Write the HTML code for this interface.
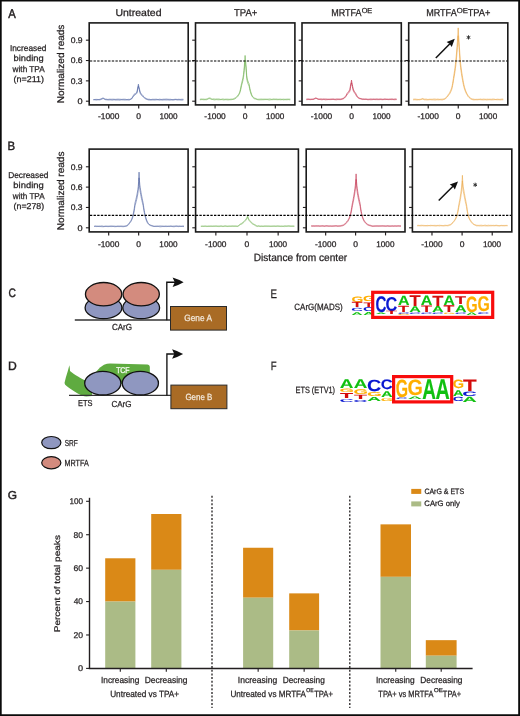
<!DOCTYPE html>
<html><head><meta charset="utf-8"><style>
html,body{margin:0;padding:0;background:#fff;}
#wrap{position:relative;width:520px;height:716px;overflow:hidden;background:#fff;}
#wrap svg{display:block;}
#main{filter:blur(0.3px);}
.bd{position:absolute;left:0;top:0;}
text{font-family:"Liberation Sans",sans-serif;}
</style></head><body><div id="wrap">
<svg id="main" width="520" height="716" viewBox="0 0 520 716" font-family="Liberation Sans, sans-serif" text-rendering="geometricPrecision">
<rect x="0" y="0" width="520" height="716" fill="#fff"/>
<polyline points="93.40,99.47 93.60,99.56 94.00,99.63 94.40,99.52 94.80,99.54 95.20,99.50 95.60,99.41 96.00,99.35 96.40,99.40 96.80,99.42 97.20,99.45 97.60,99.46 98.00,99.46 98.40,99.47 98.80,99.47 99.20,99.42 99.60,99.40 100.00,99.31 100.40,99.12 100.80,98.96 101.20,98.81 101.60,98.54 102.00,98.41 102.40,98.25 102.80,98.10 103.20,98.06 103.60,98.27 104.00,98.45 104.40,98.76 104.80,99.00 105.20,99.16 105.60,99.16 106.00,99.17 106.40,99.21 106.80,99.26 107.20,99.35 107.60,99.42 108.00,99.42 108.40,99.38 108.80,99.27 109.20,99.16 109.60,99.25 110.00,99.25 110.40,99.27 110.80,99.27 111.20,99.37 111.60,99.23 112.00,99.24 112.40,99.23 112.80,99.29 113.20,99.24 113.60,99.26 114.00,99.26 114.40,99.32 114.80,99.30 115.20,99.33 115.60,99.36 116.00,99.34 116.40,99.30 116.80,99.28 117.20,99.24 117.60,99.20 118.00,99.22 118.40,99.23 118.80,99.18 119.20,99.23 119.60,99.26 120.00,99.26 120.40,99.30 120.80,99.37 121.20,99.39 121.60,99.38 122.00,99.39 122.40,99.34 122.80,99.30 123.20,99.24 123.60,99.27 124.00,99.26 124.40,99.24 124.80,99.31 125.20,99.35 125.60,99.30 126.00,99.36 126.40,99.47 126.80,99.48 127.20,99.46 127.60,99.48 128.00,99.46 128.40,99.37 128.80,99.37 129.20,99.39 129.60,99.39 130.00,99.21 130.40,99.09 130.80,98.89 131.20,98.80 131.60,98.42 132.00,97.90 132.40,97.16 132.80,96.48 133.20,95.77 133.60,95.10 134.00,94.35 134.40,94.10 134.80,93.87 135.20,93.62 135.60,93.36 136.00,93.14 136.40,92.78 136.80,92.46 137.20,90.70 137.60,88.23 138.00,86.29 138.40,84.25 138.80,86.25 139.20,87.86 139.60,89.60 140.00,91.48 140.40,92.59 140.80,93.14 141.20,93.73 141.60,94.28 142.00,94.72 142.40,95.18 142.80,95.64 143.20,96.09 143.60,96.41 144.00,96.77 144.40,97.23 144.80,97.71 145.20,97.97 145.60,98.23 146.00,98.41 146.40,98.65 146.80,98.79 147.20,98.95 147.60,99.10 148.00,99.22 148.40,99.28 148.80,99.27 149.20,99.29 149.60,99.30 150.00,99.43 150.40,99.53 150.80,99.47 151.20,99.51 151.60,99.44 152.00,99.33 152.40,99.29 152.80,99.39 153.20,99.32 153.60,99.34 154.00,99.35 154.40,99.33 154.80,99.30 155.20,99.29 155.60,99.28 156.00,99.27 156.40,99.27 156.80,99.30 157.20,99.38 157.60,99.43 158.00,99.40 158.40,99.45 158.80,99.34 159.20,99.24 159.60,99.28 160.00,99.34 160.40,99.35 160.80,99.40 161.20,99.49 161.60,99.42 162.00,99.37 162.40,99.36 162.80,99.31 163.20,99.25 163.60,99.26 164.00,99.30 164.40,99.26 164.80,99.24 165.20,99.24 165.60,99.17 166.00,99.20 166.40,99.15 166.80,99.16 167.20,99.19 167.60,99.24 168.00,99.28 168.40,99.29 168.80,99.34 169.20,99.34 169.60,99.32 170.00,99.28 170.40,99.33 170.80,99.35 171.20,99.38 171.60,99.51 172.00,99.54 172.40,99.53 172.80,99.49 173.20,99.50 173.60,99.45 174.00,99.42 174.40,99.37 174.80,99.38 175.20,99.31 175.60,99.29 176.00,99.27 176.40,99.36 176.80,99.38 177.20,99.43 177.60,99.41 178.00,99.37 178.40,99.32 178.80,99.31 179.20,99.29 179.60,99.40 180.00,99.43 180.40,99.41 180.80,99.40 181.20,99.37 181.60,99.30 182.00,99.24 182.40,99.28 182.80,99.30 183.20,99.32 183.40,99.30" fill="none" stroke="#4a5f9f" stroke-opacity="0.65" stroke-width="1.0" stroke-linejoin="round"/>
<polyline points="93.40,99.92 93.60,99.88 94.00,99.91 94.40,99.76 94.80,99.85 95.20,99.84 95.60,99.89 96.00,99.85 96.40,100.00 96.80,99.85 97.20,99.87 97.60,99.84 98.00,99.89 98.40,99.79 98.80,99.86 99.20,99.83 99.60,99.83 100.00,99.76 100.40,99.68 100.80,99.60 101.20,99.48 101.60,99.27 102.00,99.04 102.40,98.84 102.80,98.67 103.20,98.60 103.60,98.69 104.00,98.89 104.40,99.13 104.80,99.35 105.20,99.55 105.60,99.66 106.00,99.69 106.40,99.76 106.80,99.76 107.20,99.80 107.60,99.90 108.00,99.96 108.40,99.95 108.80,99.96 109.20,99.92 109.60,99.92 110.00,99.90 110.40,99.88 110.80,99.92 111.20,100.03 111.60,99.97 112.00,99.99 112.40,100.03 112.80,100.01 113.20,99.88 113.60,99.86 114.00,99.83 114.40,99.84 114.80,99.89 115.20,99.97 115.60,99.99 116.00,100.04 116.40,99.98 116.80,100.00 117.20,99.98 117.60,99.96 118.00,99.95 118.40,99.97 118.80,99.97 119.20,100.01 119.60,100.10 120.00,100.03 120.40,99.98 120.80,99.91 121.20,99.86 121.60,99.81 122.00,99.88 122.40,99.85 122.80,99.86 123.20,99.89 123.60,99.86 124.00,99.88 124.40,99.95 124.80,99.95 125.20,99.93 125.60,99.94 126.00,99.91 126.40,99.93 126.80,99.91 127.20,99.92 127.60,99.91 128.00,99.94 128.40,99.98 128.80,100.02 129.20,99.99 129.60,99.89 130.00,99.72 130.40,99.54 130.80,99.38 131.20,99.25 131.60,98.94 132.00,98.48 132.40,97.76 132.80,97.25 133.20,96.74 133.60,96.14 134.00,95.46 134.40,95.26 134.80,95.00 135.20,94.70 135.60,94.40 136.00,94.16 136.40,93.78 136.80,93.42 137.20,91.91 137.60,89.67 138.00,87.99 138.40,86.19 138.80,87.98 139.20,89.31 139.60,91.00 140.00,92.66 140.40,93.72 140.80,94.26 141.20,94.88 141.60,95.38 142.00,95.75 142.40,96.23 142.80,96.72 143.20,97.03 143.60,97.22 144.00,97.60 144.40,97.98 144.80,98.30 145.20,98.56 145.60,98.88 146.00,99.08 146.40,99.23 146.80,99.40 147.20,99.53 147.60,99.66 148.00,99.76 148.40,99.90 148.80,99.88 149.20,99.95 149.60,99.95 150.00,99.97 150.40,99.98 150.80,99.99 151.20,99.98 151.60,99.96 152.00,99.97 152.40,99.95 152.80,99.85 153.20,99.87 153.60,99.94 154.00,99.94 154.40,99.94 154.80,100.03 155.20,99.99 155.60,99.90 156.00,99.84 156.40,99.83 156.80,99.79 157.20,99.81 157.60,99.80 158.00,99.86 158.40,99.87 158.80,99.95 159.20,99.95 159.60,100.04 160.00,99.95 160.40,99.93 160.80,99.93 161.20,100.02 161.60,99.92 162.00,100.00 162.40,100.02 162.80,100.03 163.20,99.92 163.60,99.96 164.00,99.95 164.40,99.91 164.80,99.87 165.20,99.90 165.60,99.92 166.00,99.93 166.40,99.95 166.80,99.96 167.20,99.95 167.60,99.91 168.00,99.92 168.40,99.98 168.80,99.98 169.20,100.04 169.60,100.07 170.00,100.10 170.40,99.99 170.80,100.00 171.20,99.94 171.60,99.93 172.00,99.95 172.40,100.00 172.80,100.00 173.20,99.97 173.60,100.01 174.00,99.92 174.40,99.87 174.80,99.77 175.20,99.76 175.60,99.64 176.00,99.77 176.40,99.82 176.80,99.83 177.20,99.91 177.60,99.93 178.00,99.81 178.40,99.85 178.80,99.93 179.20,99.87 179.60,99.95 180.00,100.00 180.40,100.03 180.80,100.02 181.20,100.10 181.60,100.05 182.00,100.00 182.40,100.03 182.80,99.99 183.20,99.93 183.40,99.93" fill="none" stroke="#4a5f9f" stroke-opacity="0.65" stroke-width="1.0" stroke-linejoin="round"/>
<rect x="89.20" y="22.90" width="99.00" height="82.00" fill="none" stroke="#1a1a1a" stroke-width="1.6"/>
<line x1="85.90" y1="101.20" x2="89.20" y2="101.20" stroke="#231f20" stroke-width="1.1"/>
<line x1="85.90" y1="80.86" x2="89.20" y2="80.86" stroke="#231f20" stroke-width="1.1"/>
<line x1="85.90" y1="60.52" x2="89.20" y2="60.52" stroke="#231f20" stroke-width="1.1"/>
<line x1="85.90" y1="40.18" x2="89.20" y2="40.18" stroke="#231f20" stroke-width="1.1"/>
<line x1="108.70" y1="104.90" x2="108.70" y2="108.40" stroke="#231f20" stroke-width="1.15"/>
<text x="97.97" y="119.40" font-size="8.30" textLength="21.39" lengthAdjust="spacingAndGlyphs" fill="#231f20" stroke="#231f20" stroke-width="0.25" >-1000</text>
<line x1="138.70" y1="104.90" x2="138.70" y2="108.40" stroke="#231f20" stroke-width="1.15"/>
<text x="136.31" y="119.40" font-size="8.30" textLength="4.75" lengthAdjust="spacingAndGlyphs" fill="#231f20" stroke="#231f20" stroke-width="0.25" >0</text>
<line x1="168.70" y1="104.90" x2="168.70" y2="108.40" stroke="#231f20" stroke-width="1.15"/>
<text x="159.44" y="119.40" font-size="8.30" textLength="18.20" lengthAdjust="spacingAndGlyphs" fill="#231f20" stroke="#231f20" stroke-width="0.25" >1000</text>
<polyline points="199.92,99.24 200.30,99.17 200.70,99.16 201.10,99.07 201.50,99.05 201.90,99.03 202.30,99.10 202.70,99.09 203.10,99.05 203.50,99.09 203.90,99.15 204.30,99.21 204.70,99.23 205.10,99.27 205.50,99.21 205.90,99.10 206.30,99.04 206.70,98.94 207.10,98.82 207.50,98.68 207.90,98.60 208.30,98.35 208.70,98.14 209.10,98.00 209.50,97.97 209.90,97.97 210.30,98.09 210.70,98.33 211.10,98.61 211.50,98.86 211.90,98.97 212.30,99.07 212.70,99.10 213.10,99.01 213.50,98.91 213.90,98.92 214.30,98.99 214.70,99.02 215.10,99.05 215.50,99.11 215.90,99.14 216.30,99.03 216.70,99.01 217.10,99.05 217.50,98.99 217.90,99.01 218.30,98.99 218.70,99.00 219.10,99.06 219.50,99.13 219.90,99.17 220.30,99.30 220.70,99.36 221.10,99.28 221.50,99.28 221.90,99.17 222.30,99.10 222.70,98.97 223.10,99.05 223.50,99.07 223.90,99.14 224.30,99.23 224.70,99.28 225.10,99.24 225.50,99.20 225.90,99.16 226.30,99.11 226.70,99.21 227.10,99.17 227.50,99.20 227.90,99.23 228.30,99.28 228.70,99.23 229.10,99.29 229.50,99.28 229.90,99.30 230.30,99.18 230.70,99.21 231.10,99.13 231.50,99.12 231.90,99.13 232.30,99.15 232.70,99.06 233.10,99.00 233.50,98.83 233.90,98.61 234.30,98.37 234.70,98.17 235.10,97.89 235.50,97.62 235.90,97.30 236.30,97.04 236.70,96.56 237.10,96.20 237.50,95.81 237.90,95.31 238.30,94.71 238.70,94.15 239.10,93.42 239.50,92.46 239.90,91.34 240.30,89.86 240.70,88.03 241.10,85.85 241.50,83.65 241.90,82.16 242.30,80.55 242.70,78.75 243.10,76.79 243.50,74.37 243.90,70.64 244.30,66.32 244.70,60.70 245.10,55.45 245.50,60.10 245.90,63.61 246.30,68.93 246.70,75.34 247.10,77.92 247.50,79.96 247.90,81.01 248.30,82.01 248.70,82.94 249.10,83.89 249.50,86.32 249.90,88.42 250.30,90.18 250.70,91.59 251.10,92.95 251.50,94.20 251.90,95.17 252.30,95.94 252.70,96.61 253.10,97.08 253.50,97.38 253.90,97.70 254.30,97.96 254.70,98.09 255.10,98.25 255.50,98.43 255.90,98.56 256.30,98.79 256.70,98.98 257.10,99.21 257.50,99.22 257.90,99.21 258.30,99.19 258.70,99.24 259.10,99.18 259.50,99.20 259.90,99.16 260.30,99.13 260.70,99.11 261.10,99.16 261.50,99.09 261.90,99.14 262.30,99.13 262.70,99.17 263.10,99.12 263.50,99.15 263.90,99.15 264.30,99.10 264.70,99.17 265.10,99.19 265.50,99.13 265.90,99.20 266.30,99.21 266.70,99.12 267.10,99.15 267.50,99.19 267.90,99.11 268.30,99.14 268.70,99.12 269.10,99.02 269.50,99.00 269.90,99.01 270.30,99.07 270.70,99.10 271.10,99.23 271.50,99.30 271.90,99.29 272.30,99.24 272.70,99.14 273.10,99.04 273.50,98.97 273.90,99.00 274.30,99.03 274.70,99.09 275.10,99.10 275.50,99.08 275.90,99.07 276.30,99.05 276.70,99.09 277.10,99.08 277.50,99.22 277.90,99.27 278.30,99.26 278.70,99.22 279.10,99.24 279.50,99.17 279.90,99.12 280.30,99.14 280.70,99.19 281.10,99.26 281.50,99.29 281.90,99.29 282.30,99.29 282.70,99.24 283.10,99.17 283.50,99.20 283.90,99.18 284.30,99.24 284.70,99.25 285.10,99.28 285.50,99.25 285.90,99.27 286.30,99.20 286.70,99.21 287.10,99.18 287.50,99.13 287.90,99.11 288.30,99.15 288.70,99.16 289.10,99.24 289.50,99.14 289.90,99.17 290.28,99.11" fill="none" stroke="#72b254" stroke-opacity="0.65" stroke-width="1.0" stroke-linejoin="round"/>
<polyline points="199.92,99.68 200.30,99.71 200.70,99.69 201.10,99.63 201.50,99.59 201.90,99.65 202.30,99.63 202.70,99.61 203.10,99.69 203.50,99.71 203.90,99.71 204.30,99.71 204.70,99.70 205.10,99.69 205.50,99.67 205.90,99.70 206.30,99.68 206.70,99.67 207.10,99.53 207.50,99.40 207.90,99.16 208.30,98.86 208.70,98.72 209.10,98.62 209.50,98.63 209.90,98.63 210.30,98.90 210.70,98.98 211.10,99.16 211.50,99.31 211.90,99.51 212.30,99.45 212.70,99.51 213.10,99.60 213.50,99.67 213.90,99.71 214.30,99.79 214.70,99.87 215.10,99.79 215.50,99.73 215.90,99.64 216.30,99.65 216.70,99.62 217.10,99.69 217.50,99.66 217.90,99.76 218.30,99.75 218.70,99.79 219.10,99.79 219.50,99.73 219.90,99.69 220.30,99.69 220.70,99.63 221.10,99.61 221.50,99.62 221.90,99.64 222.30,99.66 222.70,99.70 223.10,99.79 223.50,99.86 223.90,99.84 224.30,99.79 224.70,99.79 225.10,99.66 225.50,99.70 225.90,99.67 226.30,99.70 226.70,99.77 227.10,99.85 227.50,99.81 227.90,99.89 228.30,99.88 228.70,99.84 229.10,99.79 229.50,99.75 229.90,99.71 230.30,99.75 230.70,99.71 231.10,99.66 231.50,99.68 231.90,99.57 232.30,99.51 232.70,99.45 233.10,99.42 233.50,99.28 233.90,99.16 234.30,99.08 234.70,98.96 235.10,98.70 235.50,98.50 235.90,98.29 236.30,97.89 236.70,97.49 237.10,97.17 237.50,96.75 237.90,96.28 238.30,95.74 238.70,95.11 239.10,94.43 239.50,93.68 239.90,92.68 240.30,91.35 240.70,89.78 241.10,87.81 241.50,85.78 241.90,84.42 242.30,82.97 242.70,81.32 243.10,79.66 243.50,77.49 243.90,74.07 244.30,70.16 244.70,65.09 245.10,60.28 245.50,64.48 245.90,67.64 246.30,72.53 246.70,78.27 247.10,80.62 247.50,82.49 247.90,83.47 248.30,84.33 248.70,85.24 249.10,86.07 249.50,88.24 249.90,90.14 250.30,91.71 250.70,92.91 251.10,94.17 251.50,95.19 251.90,95.95 252.30,96.63 252.70,97.30 253.10,97.70 253.50,98.08 253.90,98.44 254.30,98.70 254.70,98.80 255.10,98.92 255.50,99.01 255.90,99.11 256.30,99.25 256.70,99.44 257.10,99.60 257.50,99.63 257.90,99.67 258.30,99.76 258.70,99.82 259.10,99.84 259.50,99.85 259.90,99.81 260.30,99.79 260.70,99.79 261.10,99.76 261.50,99.78 261.90,99.79 262.30,99.75 262.70,99.69 263.10,99.70 263.50,99.71 263.90,99.66 264.30,99.64 264.70,99.63 265.10,99.61 265.50,99.58 265.90,99.58 266.30,99.61 266.70,99.56 267.10,99.60 267.50,99.60 267.90,99.75 268.30,99.78 268.70,99.90 269.10,99.91 269.50,99.97 269.90,99.88 270.30,99.83 270.70,99.72 271.10,99.72 271.50,99.68 271.90,99.67 272.30,99.66 272.70,99.69 273.10,99.67 273.50,99.61 273.90,99.58 274.30,99.65 274.70,99.59 275.10,99.57 275.50,99.60 275.90,99.69 276.30,99.63 276.70,99.70 277.10,99.74 277.50,99.71 277.90,99.71 278.30,99.70 278.70,99.67 279.10,99.65 279.50,99.66 279.90,99.68 280.30,99.76 280.70,99.78 281.10,99.74 281.50,99.68 281.90,99.72 282.30,99.64 282.70,99.67 283.10,99.80 283.50,99.83 283.90,99.74 284.30,99.74 284.70,99.68 285.10,99.63 285.50,99.70 285.90,99.64 286.30,99.70 286.70,99.73 287.10,99.70 287.50,99.67 287.90,99.69 288.30,99.64 288.70,99.61 289.10,99.68 289.50,99.76 289.90,99.81 290.28,99.82" fill="none" stroke="#72b254" stroke-opacity="0.65" stroke-width="1.0" stroke-linejoin="round"/>
<rect x="195.50" y="22.90" width="99.40" height="82.00" fill="none" stroke="#1a1a1a" stroke-width="1.6"/>
<line x1="192.20" y1="101.20" x2="195.50" y2="101.20" stroke="#231f20" stroke-width="1.1"/>
<line x1="192.20" y1="80.86" x2="195.50" y2="80.86" stroke="#231f20" stroke-width="1.1"/>
<line x1="192.20" y1="60.52" x2="195.50" y2="60.52" stroke="#231f20" stroke-width="1.1"/>
<line x1="192.20" y1="40.18" x2="195.50" y2="40.18" stroke="#231f20" stroke-width="1.1"/>
<line x1="215.08" y1="104.90" x2="215.08" y2="108.40" stroke="#231f20" stroke-width="1.15"/>
<text x="204.35" y="119.40" font-size="8.30" textLength="21.39" lengthAdjust="spacingAndGlyphs" fill="#231f20" stroke="#231f20" stroke-width="0.25" >-1000</text>
<line x1="245.20" y1="104.90" x2="245.20" y2="108.40" stroke="#231f20" stroke-width="1.15"/>
<text x="242.81" y="119.40" font-size="8.30" textLength="4.75" lengthAdjust="spacingAndGlyphs" fill="#231f20" stroke="#231f20" stroke-width="0.25" >0</text>
<line x1="275.32" y1="104.90" x2="275.32" y2="108.40" stroke="#231f20" stroke-width="1.15"/>
<text x="266.06" y="119.40" font-size="8.30" textLength="18.20" lengthAdjust="spacingAndGlyphs" fill="#231f20" stroke="#231f20" stroke-width="0.25" >1000</text>
<polyline points="306.36,99.07 306.70,99.04 307.10,98.94 307.50,98.99 307.90,99.01 308.30,98.94 308.70,99.04 309.10,99.12 309.50,99.18 309.90,99.16 310.30,99.21 310.70,99.19 311.10,99.21 311.50,99.11 311.90,99.09 312.30,99.08 312.70,99.02 313.10,98.99 313.50,98.90 313.90,98.82 314.30,98.59 314.70,98.34 315.10,98.15 315.50,97.97 315.90,97.93 316.30,98.09 316.70,98.26 317.10,98.45 317.50,98.68 317.90,98.73 318.30,98.86 318.70,98.98 319.10,99.01 319.50,99.05 319.90,99.03 320.30,98.97 320.70,98.92 321.10,98.93 321.50,98.98 321.90,99.04 322.30,99.04 322.70,99.10 323.10,99.09 323.50,98.98 323.90,99.05 324.30,99.04 324.70,98.98 325.10,98.95 325.50,99.02 325.90,99.01 326.30,99.03 326.70,99.07 327.10,99.09 327.50,99.16 327.90,99.18 328.30,99.17 328.70,99.18 329.10,99.23 329.50,99.16 329.90,99.07 330.30,99.09 330.70,99.10 331.10,99.08 331.50,99.03 331.90,99.07 332.30,99.04 332.70,98.93 333.10,98.92 333.50,98.99 333.90,98.99 334.30,99.08 334.70,99.23 335.10,99.24 335.50,99.18 335.90,99.16 336.30,99.05 336.70,98.98 337.10,98.96 337.50,98.99 337.90,99.04 338.30,99.01 338.70,99.04 339.10,99.03 339.50,99.05 339.90,99.01 340.30,99.06 340.70,99.00 341.10,98.89 341.50,98.76 341.90,98.62 342.30,98.53 342.70,98.38 343.10,98.31 343.50,98.12 343.90,97.88 344.30,97.64 344.70,97.23 345.10,96.63 345.50,96.13 345.90,95.63 346.30,94.97 346.70,94.24 347.10,93.35 347.50,92.83 347.90,92.36 348.30,91.84 348.70,91.29 349.10,90.75 349.50,90.11 349.90,89.49 350.30,86.59 350.70,84.06 351.10,82.55 351.50,80.15 351.90,82.59 352.30,84.44 352.70,86.55 353.10,88.40 353.50,89.85 353.90,90.52 354.30,91.24 354.70,91.88 355.10,92.44 355.50,92.96 355.90,93.68 356.30,94.56 356.70,95.29 357.10,95.91 357.50,96.43 357.90,96.91 358.30,97.31 358.70,97.62 359.10,97.89 359.50,98.12 359.90,98.28 360.30,98.40 360.70,98.53 361.10,98.58 361.50,98.71 361.90,98.82 362.30,98.80 362.70,98.87 363.10,98.89 363.50,98.90 363.90,98.88 364.30,99.01 364.70,99.02 365.10,99.03 365.50,98.96 365.90,98.99 366.30,99.06 366.70,99.07 367.10,99.16 367.50,99.21 367.90,99.23 368.30,99.22 368.70,99.20 369.10,99.12 369.50,99.13 369.90,99.09 370.30,99.02 370.70,99.00 371.10,99.03 371.50,99.04 371.90,99.06 372.30,99.08 372.70,99.07 373.10,99.05 373.50,99.01 373.90,99.05 374.30,99.08 374.70,99.07 375.10,99.08 375.50,99.07 375.90,99.01 376.30,98.94 376.70,98.97 377.10,98.98 377.50,99.03 377.90,99.07 378.30,99.14 378.70,99.08 379.10,99.04 379.50,99.04 379.90,99.04 380.30,98.97 380.70,98.98 381.10,99.07 381.50,99.04 381.90,99.08 382.30,99.16 382.70,99.23 383.10,99.18 383.50,99.16 383.90,99.03 384.30,98.91 384.70,98.91 385.10,98.95 385.50,98.94 385.90,99.04 386.30,99.09 386.70,99.11 387.10,99.09 387.50,99.18 387.90,99.07 388.30,99.18 388.70,99.16 389.10,99.15 389.50,99.06 389.90,99.13 390.30,99.09 390.70,99.03 391.10,98.96 391.50,98.96 391.90,98.92 392.30,98.96 392.70,99.03 393.10,99.14 393.50,99.20 393.90,99.17 394.30,99.10 394.70,99.01 395.10,98.93 395.50,98.96 395.90,99.01 396.30,99.04 396.64,99.09" fill="none" stroke="#c2304c" stroke-opacity="0.65" stroke-width="1.0" stroke-linejoin="round"/>
<polyline points="306.36,99.65 306.70,99.66 307.10,99.63 307.50,99.57 307.90,99.59 308.30,99.52 308.70,99.54 309.10,99.59 309.50,99.57 309.90,99.56 310.30,99.65 310.70,99.60 311.10,99.57 311.50,99.53 311.90,99.56 312.30,99.53 312.70,99.51 313.10,99.41 313.50,99.43 313.90,99.26 314.30,99.06 314.70,98.92 315.10,98.79 315.50,98.54 315.90,98.49 316.30,98.50 316.70,98.62 317.10,98.81 317.50,99.04 317.90,99.27 318.30,99.41 318.70,99.47 319.10,99.45 319.50,99.48 319.90,99.40 320.30,99.52 320.70,99.57 321.10,99.64 321.50,99.70 321.90,99.74 322.30,99.70 322.70,99.61 323.10,99.55 323.50,99.45 323.90,99.47 324.30,99.54 324.70,99.58 325.10,99.62 325.50,99.76 325.90,99.76 326.30,99.68 326.70,99.68 327.10,99.69 327.50,99.61 327.90,99.54 328.30,99.56 328.70,99.54 329.10,99.59 329.50,99.59 329.90,99.57 330.30,99.55 330.70,99.62 331.10,99.56 331.50,99.54 331.90,99.57 332.30,99.53 332.70,99.45 333.10,99.42 333.50,99.51 333.90,99.55 334.30,99.59 334.70,99.66 335.10,99.76 335.50,99.70 335.90,99.72 336.30,99.75 336.70,99.68 337.10,99.56 337.50,99.59 337.90,99.61 338.30,99.60 338.70,99.57 339.10,99.63 339.50,99.58 339.90,99.54 340.30,99.57 340.70,99.62 341.10,99.55 341.50,99.49 341.90,99.43 342.30,99.28 342.70,99.10 343.10,98.91 343.50,98.70 343.90,98.53 344.30,98.27 344.70,97.89 345.10,97.44 345.50,97.01 345.90,96.48 346.30,95.93 346.70,95.25 347.10,94.54 347.50,94.06 347.90,93.68 348.30,93.22 348.70,92.86 349.10,92.30 349.50,91.75 349.90,91.10 350.30,88.51 350.70,86.21 351.10,84.77 351.50,82.62 351.90,84.77 352.30,86.40 352.70,88.19 353.10,89.99 353.50,91.24 353.90,91.90 354.30,92.57 354.70,93.18 355.10,93.64 355.50,94.18 355.90,94.92 356.30,95.72 356.70,96.43 357.10,97.00 357.50,97.41 357.90,97.77 358.30,98.07 358.70,98.31 359.10,98.48 359.50,98.61 359.90,98.78 360.30,98.87 360.70,98.89 361.10,99.05 361.50,99.20 361.90,99.32 362.30,99.46 362.70,99.54 363.10,99.48 363.50,99.49 363.90,99.46 364.30,99.45 364.70,99.48 365.10,99.47 365.50,99.49 365.90,99.43 366.30,99.45 366.70,99.49 367.10,99.59 367.50,99.66 367.90,99.67 368.30,99.70 368.70,99.72 369.10,99.72 369.50,99.62 369.90,99.69 370.30,99.74 370.70,99.63 371.10,99.61 371.50,99.69 371.90,99.65 372.30,99.60 372.70,99.62 373.10,99.57 373.50,99.49 373.90,99.53 374.30,99.50 374.70,99.58 375.10,99.57 375.50,99.60 375.90,99.63 376.30,99.65 376.70,99.57 377.10,99.63 377.50,99.61 377.90,99.59 378.30,99.58 378.70,99.68 379.10,99.66 379.50,99.61 379.90,99.54 380.30,99.56 380.70,99.50 381.10,99.54 381.50,99.62 381.90,99.64 382.30,99.66 382.70,99.64 383.10,99.51 383.50,99.58 383.90,99.54 384.30,99.52 384.70,99.59 385.10,99.67 385.50,99.53 385.90,99.64 386.30,99.56 386.70,99.47 387.10,99.45 387.50,99.55 387.90,99.52 388.30,99.61 388.70,99.64 389.10,99.65 389.50,99.58 389.90,99.55 390.30,99.54 390.70,99.55 391.10,99.57 391.50,99.60 391.90,99.58 392.30,99.56 392.70,99.57 393.10,99.57 393.50,99.60 393.90,99.69 394.30,99.68 394.70,99.68 395.10,99.62 395.50,99.61 395.90,99.57 396.30,99.58 396.64,99.59" fill="none" stroke="#c2304c" stroke-opacity="0.65" stroke-width="1.0" stroke-linejoin="round"/>
<rect x="302.00" y="22.90" width="99.30" height="82.00" fill="none" stroke="#1a1a1a" stroke-width="1.6"/>
<line x1="298.70" y1="101.20" x2="302.00" y2="101.20" stroke="#231f20" stroke-width="1.1"/>
<line x1="298.70" y1="80.86" x2="302.00" y2="80.86" stroke="#231f20" stroke-width="1.1"/>
<line x1="298.70" y1="60.52" x2="302.00" y2="60.52" stroke="#231f20" stroke-width="1.1"/>
<line x1="298.70" y1="40.18" x2="302.00" y2="40.18" stroke="#231f20" stroke-width="1.1"/>
<line x1="321.56" y1="104.90" x2="321.56" y2="108.40" stroke="#231f20" stroke-width="1.15"/>
<text x="310.83" y="119.40" font-size="8.30" textLength="21.39" lengthAdjust="spacingAndGlyphs" fill="#231f20" stroke="#231f20" stroke-width="0.25" >-1000</text>
<line x1="351.65" y1="104.90" x2="351.65" y2="108.40" stroke="#231f20" stroke-width="1.15"/>
<text x="349.26" y="119.40" font-size="8.30" textLength="4.75" lengthAdjust="spacingAndGlyphs" fill="#231f20" stroke="#231f20" stroke-width="0.25" >0</text>
<line x1="381.74" y1="104.90" x2="381.74" y2="108.40" stroke="#231f20" stroke-width="1.15"/>
<text x="372.48" y="119.40" font-size="8.30" textLength="18.20" lengthAdjust="spacingAndGlyphs" fill="#231f20" stroke="#231f20" stroke-width="0.25" >1000</text>
<polyline points="413.15,99.20 413.40,99.20 413.80,99.18 414.20,99.16 414.60,99.12 415.00,99.14 415.40,99.13 415.80,99.12 416.20,99.16 416.60,99.29 417.00,99.32 417.40,99.35 417.80,99.45 418.20,99.44 418.60,99.43 419.00,99.39 419.40,99.36 419.80,99.33 420.20,99.33 420.60,99.24 421.00,99.22 421.40,99.08 421.80,98.83 422.20,98.59 422.60,98.51 423.00,98.58 423.40,98.74 423.80,98.86 424.20,99.03 424.60,99.20 425.00,99.12 425.40,99.12 425.80,99.19 426.20,99.21 426.60,99.16 427.00,99.30 427.40,99.39 427.80,99.45 428.20,99.41 428.60,99.37 429.00,99.31 429.40,99.27 429.80,99.21 430.20,99.20 430.60,99.27 431.00,99.28 431.40,99.24 431.80,99.29 432.20,99.28 432.60,99.19 433.00,99.16 433.40,99.11 433.80,98.98 434.20,99.02 434.60,99.02 435.00,99.02 435.40,99.12 435.80,99.19 436.20,99.26 436.60,99.22 437.00,99.14 437.40,99.10 437.80,99.15 438.20,99.15 438.60,99.19 439.00,99.29 439.40,99.29 439.80,99.37 440.20,99.23 440.60,99.27 441.00,99.28 441.40,99.25 441.80,99.14 442.20,99.21 442.60,99.08 443.00,99.00 443.40,98.98 443.80,98.93 444.20,98.78 444.60,98.63 445.00,98.40 445.40,98.09 445.80,97.69 446.20,97.45 446.60,97.11 447.00,96.61 447.40,96.09 447.80,95.42 448.20,94.72 448.60,94.20 449.00,93.73 449.40,93.06 449.80,92.39 450.20,91.53 450.60,90.71 451.00,89.71 451.40,88.62 451.80,87.47 452.20,85.75 452.60,83.63 453.00,81.24 453.40,78.49 453.80,75.74 454.20,73.26 454.60,70.63 455.00,67.73 455.40,64.52 455.80,61.01 456.20,56.75 456.60,51.93 457.00,46.52 457.40,41.38 457.80,35.63 458.20,27.86 458.60,35.56 459.00,41.27 459.40,46.73 459.80,53.56 460.20,59.51 460.60,63.61 461.00,66.91 461.40,70.03 461.80,72.72 462.20,75.21 462.60,77.47 463.00,80.11 463.40,82.27 463.80,84.31 464.20,86.03 464.60,87.56 465.00,88.81 465.40,90.08 465.80,91.05 466.20,92.00 466.60,92.93 467.00,93.75 467.40,94.31 467.80,94.90 468.20,95.68 468.60,96.21 469.00,96.71 469.40,97.18 469.80,97.49 470.20,97.74 470.60,98.15 471.00,98.42 471.40,98.59 471.80,98.82 472.20,98.92 472.60,99.04 473.00,99.06 473.40,99.14 473.80,99.22 474.20,99.32 474.60,99.33 475.00,99.40 475.40,99.38 475.80,99.36 476.20,99.34 476.60,99.31 477.00,99.30 477.40,99.31 477.80,99.33 478.20,99.29 478.60,99.25 479.00,99.16 479.40,99.22 479.80,99.15 480.20,99.12 480.60,99.09 481.00,99.23 481.40,99.26 481.80,99.27 482.20,99.24 482.60,99.27 483.00,99.17 483.40,99.08 483.80,99.12 484.20,99.15 484.60,99.18 485.00,99.22 485.40,99.25 485.80,99.25 486.20,99.26 486.60,99.26 487.00,99.27 487.40,99.21 487.80,99.23 488.20,99.24 488.60,99.28 489.00,99.18 489.40,99.25 489.80,99.19 490.20,99.25 490.60,99.21 491.00,99.24 491.40,99.26 491.80,99.25 492.20,99.16 492.60,99.12 493.00,99.13 493.40,99.07 493.80,99.07 494.20,99.15 494.60,99.22 495.00,99.31 495.40,99.41 495.80,99.46 496.20,99.42 496.60,99.33 497.00,99.27 497.40,99.20 497.80,99.23 498.20,99.21 498.60,99.32 499.00,99.40 499.40,99.39 499.80,99.32 500.20,99.35 500.60,99.26 501.00,99.15 501.40,99.14 501.80,99.17 502.20,99.09 502.60,99.14 503.00,99.19 503.25,99.21" fill="none" stroke="#eba848" stroke-opacity="0.65" stroke-width="1.0" stroke-linejoin="round"/>
<polyline points="413.15,99.82 413.40,99.82 413.80,99.84 414.20,99.76 414.60,99.75 415.00,99.81 415.40,99.81 415.80,99.78 416.20,99.82 416.60,99.86 417.00,99.82 417.40,99.86 417.80,99.87 418.20,99.87 418.60,99.78 419.00,99.83 419.40,99.84 419.80,99.79 420.20,99.69 420.60,99.63 421.00,99.55 421.40,99.42 421.80,99.29 422.20,99.23 422.60,99.21 423.00,99.34 423.40,99.44 423.80,99.64 424.20,99.73 424.60,99.79 425.00,99.77 425.40,99.78 425.80,99.81 426.20,99.82 426.60,99.86 427.00,99.84 427.40,99.91 427.80,99.83 428.20,99.85 428.60,99.82 429.00,99.80 429.40,99.73 429.80,99.73 430.20,99.69 430.60,99.69 431.00,99.74 431.40,99.78 431.80,99.81 432.20,99.81 432.60,99.84 433.00,99.81 433.40,99.81 433.80,99.85 434.20,99.86 434.60,99.94 435.00,99.99 435.40,99.96 435.80,99.92 436.20,99.90 436.60,99.79 437.00,99.80 437.40,99.77 437.80,99.79 438.20,99.77 438.60,99.83 439.00,99.74 439.40,99.75 439.80,99.75 440.20,99.78 440.60,99.76 441.00,99.80 441.40,99.85 441.80,99.87 442.20,99.95 442.60,99.80 443.00,99.76 443.40,99.60 443.80,99.48 444.20,99.34 444.60,99.32 445.00,99.01 445.40,98.76 445.80,98.45 446.20,98.01 446.60,97.61 447.00,97.30 447.40,96.84 447.80,96.20 448.20,95.72 448.60,95.27 449.00,94.75 449.40,94.14 449.80,93.62 450.20,92.91 450.60,92.10 451.00,91.24 451.40,90.33 451.80,89.16 452.20,87.50 452.60,85.57 453.00,83.37 453.40,80.86 453.80,78.54 454.20,76.35 454.60,74.02 455.00,71.46 455.40,68.56 455.80,65.33 456.20,61.45 456.60,57.09 457.00,52.31 457.40,47.61 457.80,42.43 458.20,35.47 458.60,42.41 459.00,47.51 459.40,52.58 459.80,58.68 460.20,64.02 460.60,67.64 461.00,70.66 461.40,73.45 461.80,76.01 462.20,78.27 462.60,80.49 463.00,82.70 463.40,84.66 463.80,86.39 464.20,87.93 464.60,89.22 465.00,90.42 465.40,91.46 465.80,92.35 466.20,93.20 466.60,94.05 467.00,94.74 467.40,95.39 467.80,96.02 468.20,96.66 468.60,97.10 469.00,97.55 469.40,97.84 469.80,98.12 470.20,98.45 470.60,98.83 471.00,99.09 471.40,99.32 471.80,99.49 472.20,99.55 472.60,99.66 473.00,99.78 473.40,99.84 473.80,99.84 474.20,99.88 474.60,99.84 475.00,99.81 475.40,99.82 475.80,99.72 476.20,99.76 476.60,99.79 477.00,99.78 477.40,99.77 477.80,99.80 478.20,99.71 478.60,99.70 479.00,99.65 479.40,99.63 479.80,99.70 480.20,99.68 480.60,99.72 481.00,99.79 481.40,99.80 481.80,99.79 482.20,99.85 482.60,99.85 483.00,99.83 483.40,99.85 483.80,99.86 484.20,99.82 484.60,99.77 485.00,99.77 485.40,99.76 485.80,99.85 486.20,99.91 486.60,99.95 487.00,99.92 487.40,99.88 487.80,99.82 488.20,99.83 488.60,99.81 489.00,99.78 489.40,99.79 489.80,99.74 490.20,99.78 490.60,99.82 491.00,99.83 491.40,99.88 491.80,99.87 492.20,99.83 492.60,99.83 493.00,99.83 493.40,99.80 493.80,99.77 494.20,99.70 494.60,99.69 495.00,99.73 495.40,99.69 495.80,99.67 496.20,99.73 496.60,99.74 497.00,99.76 497.40,99.78 497.80,99.81 498.20,99.83 498.60,99.72 499.00,99.76 499.40,99.79 499.80,99.86 500.20,99.84 500.60,99.93 501.00,99.90 501.40,99.82 501.80,99.78 502.20,99.82 502.60,99.76 503.00,99.74 503.25,99.80" fill="none" stroke="#eba848" stroke-opacity="0.65" stroke-width="1.0" stroke-linejoin="round"/>
<rect x="408.70" y="22.90" width="99.10" height="82.00" fill="none" stroke="#1a1a1a" stroke-width="1.6"/>
<line x1="405.40" y1="101.20" x2="408.70" y2="101.20" stroke="#231f20" stroke-width="1.1"/>
<line x1="405.40" y1="80.86" x2="408.70" y2="80.86" stroke="#231f20" stroke-width="1.1"/>
<line x1="405.40" y1="60.52" x2="408.70" y2="60.52" stroke="#231f20" stroke-width="1.1"/>
<line x1="405.40" y1="40.18" x2="408.70" y2="40.18" stroke="#231f20" stroke-width="1.1"/>
<line x1="428.22" y1="104.90" x2="428.22" y2="108.40" stroke="#231f20" stroke-width="1.15"/>
<text x="417.49" y="119.40" font-size="8.30" textLength="21.39" lengthAdjust="spacingAndGlyphs" fill="#231f20" stroke="#231f20" stroke-width="0.25" >-1000</text>
<line x1="458.25" y1="104.90" x2="458.25" y2="108.40" stroke="#231f20" stroke-width="1.15"/>
<text x="455.86" y="119.40" font-size="8.30" textLength="4.75" lengthAdjust="spacingAndGlyphs" fill="#231f20" stroke="#231f20" stroke-width="0.25" >0</text>
<line x1="488.28" y1="104.90" x2="488.28" y2="108.40" stroke="#231f20" stroke-width="1.15"/>
<text x="479.02" y="119.40" font-size="8.30" textLength="18.20" lengthAdjust="spacingAndGlyphs" fill="#231f20" stroke="#231f20" stroke-width="0.25" >1000</text>
<line x1="89.90" y1="61.00" x2="507.10" y2="61.00" stroke="#000" stroke-width="1.2" stroke-dasharray="2.35 1.3"/>
<text x="77.43" y="104.10" font-size="8.20" textLength="5.10" lengthAdjust="spacingAndGlyphs" fill="#231f20" stroke="#231f20" stroke-width="0.25" >0</text>
<text x="70.66" y="83.76" font-size="8.20" textLength="11.89" lengthAdjust="spacingAndGlyphs" fill="#231f20" stroke="#231f20" stroke-width="0.25" >0.3</text>
<text x="70.66" y="63.42" font-size="8.20" textLength="11.89" lengthAdjust="spacingAndGlyphs" fill="#231f20" stroke="#231f20" stroke-width="0.25" >0.6</text>
<text x="70.66" y="43.08" font-size="8.20" textLength="11.93" lengthAdjust="spacingAndGlyphs" fill="#231f20" stroke="#231f20" stroke-width="0.25" >0.9</text>
<polyline points="94.10,226.12 94.25,226.12 94.65,226.14 95.05,226.06 95.45,226.05 95.85,226.11 96.25,226.11 96.65,226.08 97.05,226.12 97.45,226.16 97.85,226.12 98.25,226.16 98.65,226.17 99.05,226.17 99.45,226.08 99.85,226.13 100.25,226.14 100.65,226.09 101.05,226.00 101.45,225.98 101.85,225.98 102.25,226.02 102.65,226.10 103.05,226.24 103.45,226.31 103.85,226.36 104.25,226.25 104.65,226.23 105.05,226.16 105.45,226.14 105.85,226.09 106.25,226.08 106.65,226.11 107.05,226.12 107.45,226.16 107.85,226.14 108.25,226.21 108.65,226.13 109.05,226.15 109.45,226.12 109.85,226.10 110.25,226.03 110.65,226.03 111.05,225.99 111.45,225.99 111.85,226.04 112.25,226.08 112.65,226.11 113.05,226.11 113.45,226.14 113.85,226.11 114.25,226.11 114.65,226.15 115.05,226.16 115.45,226.24 115.85,226.29 116.25,226.26 116.65,226.22 117.05,226.20 117.45,226.09 117.85,226.10 118.25,226.07 118.65,226.09 119.05,226.07 119.45,226.13 119.85,226.04 120.25,226.05 120.65,226.05 121.05,226.08 121.45,226.06 121.85,226.10 122.25,226.15 122.65,226.17 123.05,226.25 123.45,226.18 123.85,226.21 124.25,226.13 124.65,226.09 125.05,226.07 125.45,226.06 125.85,225.83 126.25,225.73 126.65,225.63 127.05,225.30 127.45,225.01 127.85,224.80 128.25,224.43 128.65,223.84 129.05,223.30 129.45,222.68 129.85,222.18 130.25,221.60 130.65,221.07 131.05,220.35 131.45,219.51 131.85,218.59 132.25,217.59 132.65,216.27 133.05,214.76 133.45,212.92 133.85,210.81 134.25,208.40 134.65,205.69 135.05,202.70 135.45,201.23 135.85,199.67 136.25,197.93 136.65,196.05 137.05,194.10 137.45,191.98 137.85,189.68 138.25,186.26 138.65,181.40 139.05,172.12 139.45,180.64 139.85,184.89 140.25,187.70 140.65,190.23 141.05,192.60 141.45,194.78 141.85,196.90 142.25,198.91 142.65,200.83 143.05,202.56 143.45,205.27 143.85,208.11 144.25,210.56 144.65,212.68 145.05,214.51 145.45,216.07 145.85,217.67 146.25,218.98 146.65,220.05 147.05,221.01 147.45,221.91 147.85,222.61 148.25,223.26 148.65,223.85 149.05,224.26 149.45,224.49 149.85,224.77 150.25,224.91 150.65,225.07 151.05,225.30 151.45,225.42 151.85,225.51 152.25,225.65 152.65,225.79 153.05,225.85 153.45,226.02 153.85,226.19 154.25,226.25 154.65,226.20 155.05,226.18 155.45,226.14 155.85,226.11 156.25,226.12 156.65,226.02 157.05,226.06 157.45,226.09 157.85,226.08 158.25,226.07 158.65,226.10 159.05,226.01 159.45,226.00 159.85,225.95 160.25,225.93 160.65,226.00 161.05,225.98 161.45,226.02 161.85,226.09 162.25,226.10 162.65,226.09 163.05,226.15 163.45,226.15 163.85,226.13 164.25,226.15 164.65,226.16 165.05,226.12 165.45,226.07 165.85,226.07 166.25,226.06 166.65,226.15 167.05,226.21 167.45,226.25 167.85,226.22 168.25,226.18 168.65,226.12 169.05,226.13 169.45,226.11 169.85,226.08 170.25,226.09 170.65,226.04 171.05,226.08 171.45,226.12 171.85,226.13 172.25,226.18 172.65,226.17 173.05,226.13 173.45,226.13 173.85,226.13 174.25,226.10 174.65,226.07 175.05,226.00 175.45,225.99 175.85,226.03 176.25,225.99 176.65,225.97 177.05,226.03 177.45,226.04 177.85,226.06 178.25,226.08 178.65,226.11 179.05,226.13 179.45,226.02 179.85,226.06 180.25,226.09 180.65,226.16 181.05,226.14 181.45,226.23 181.85,226.20 182.25,226.12 182.65,226.08 183.05,226.12 183.45,226.06 183.85,226.04 184.00,226.10" fill="none" stroke="#4a5f9f" stroke-opacity="0.6" stroke-width="1.0" stroke-linejoin="round"/>
<polyline points="94.10,226.59 94.25,226.49 94.65,226.49 95.05,226.41 95.45,226.40 95.85,226.43 96.25,226.55 96.65,226.50 97.05,226.48 97.45,226.49 97.85,226.50 98.25,226.50 98.65,226.50 99.05,226.49 99.45,226.53 99.85,226.57 100.25,226.54 100.65,226.57 101.05,226.65 101.45,226.61 101.85,226.58 102.25,226.64 102.65,226.69 103.05,226.65 103.45,226.69 103.85,226.64 104.25,226.57 104.65,226.53 105.05,226.52 105.45,226.47 105.85,226.49 106.25,226.48 106.65,226.51 107.05,226.52 107.45,226.55 107.85,226.61 108.25,226.56 108.65,226.61 109.05,226.60 109.45,226.54 109.85,226.48 110.25,226.54 110.65,226.53 111.05,226.50 111.45,226.56 111.85,226.57 112.25,226.50 112.65,226.41 113.05,226.48 113.45,226.49 113.85,226.53 114.25,226.62 114.65,226.68 115.05,226.66 115.45,226.68 115.85,226.60 116.25,226.58 116.65,226.58 117.05,226.51 117.45,226.52 117.85,226.52 118.25,226.52 118.65,226.59 119.05,226.62 119.45,226.55 119.85,226.64 120.25,226.60 120.65,226.50 121.05,226.55 121.45,226.59 121.85,226.55 122.25,226.61 122.65,226.68 123.05,226.70 123.45,226.70 123.85,226.65 124.25,226.61 124.65,226.48 125.05,226.47 125.45,226.26 125.85,226.20 126.25,226.18 126.65,226.09 127.05,225.88 127.45,225.73 127.85,225.47 128.25,225.02 128.65,224.59 129.05,224.00 129.45,223.44 129.85,223.02 130.25,222.52 130.65,221.97 131.05,221.36 131.45,220.67 131.85,219.73 132.25,218.86 132.65,217.78 133.05,216.47 133.45,214.83 133.85,212.95 134.25,210.73 134.65,208.25 135.05,205.54 135.45,204.16 135.85,202.82 136.25,201.36 136.65,199.65 137.05,197.95 137.45,195.97 137.85,193.70 138.25,190.62 138.65,186.22 139.05,177.84 139.45,185.60 139.85,189.59 140.25,192.07 140.65,194.41 141.05,196.47 141.45,198.45 141.85,200.32 142.25,202.11 142.65,203.68 143.05,205.26 143.45,207.60 143.85,210.18 144.25,212.41 144.65,214.40 145.05,216.05 145.45,217.54 145.85,219.04 146.25,220.17 146.65,221.18 147.05,222.12 147.45,222.87 147.85,223.45 148.25,223.99 148.65,224.43 149.05,224.68 149.45,224.99 149.85,225.26 150.25,225.50 150.65,225.63 151.05,225.81 151.45,225.89 151.85,225.98 152.25,226.05 152.65,226.22 153.05,226.38 153.45,226.43 153.85,226.49 154.25,226.53 154.65,226.46 155.05,226.46 155.45,226.50 155.85,226.54 156.25,226.52 156.65,226.53 157.05,226.49 157.45,226.46 157.85,226.45 158.25,226.47 158.65,226.53 159.05,226.61 159.45,226.68 159.85,226.74 160.25,226.77 160.65,226.78 161.05,226.69 161.45,226.67 161.85,226.59 162.25,226.57 162.65,226.51 163.05,226.55 163.45,226.53 163.85,226.55 164.25,226.53 164.65,226.56 165.05,226.47 165.45,226.52 165.85,226.51 166.25,226.56 166.65,226.55 167.05,226.54 167.45,226.43 167.85,226.44 168.25,226.49 168.65,226.45 169.05,226.48 169.45,226.53 169.85,226.47 170.25,226.35 170.65,226.38 171.05,226.40 171.45,226.39 171.85,226.51 172.25,226.57 172.65,226.60 173.05,226.66 173.45,226.74 173.85,226.62 174.25,226.62 174.65,226.65 175.05,226.53 175.45,226.43 175.85,226.44 176.25,226.40 176.65,226.32 177.05,226.38 177.45,226.46 177.85,226.57 178.25,226.62 178.65,226.59 179.05,226.58 179.45,226.52 179.85,226.47 180.25,226.47 180.65,226.47 181.05,226.49 181.45,226.43 181.85,226.39 182.25,226.40 182.65,226.49 183.05,226.53 183.45,226.52 183.85,226.55 184.00,226.53" fill="none" stroke="#4a5f9f" stroke-opacity="0.55" stroke-width="1.0" stroke-linejoin="round"/>
<rect x="89.20" y="149.10" width="98.90" height="82.80" fill="none" stroke="#1a1a1a" stroke-width="1.6"/>
<line x1="85.90" y1="227.80" x2="89.20" y2="227.80" stroke="#231f20" stroke-width="1.1"/>
<line x1="85.90" y1="207.46" x2="89.20" y2="207.46" stroke="#231f20" stroke-width="1.1"/>
<line x1="85.90" y1="187.12" x2="89.20" y2="187.12" stroke="#231f20" stroke-width="1.1"/>
<line x1="85.90" y1="166.78" x2="89.20" y2="166.78" stroke="#231f20" stroke-width="1.1"/>
<line x1="108.68" y1="231.90" x2="108.68" y2="235.40" stroke="#231f20" stroke-width="1.15"/>
<text x="97.95" y="246.80" font-size="8.30" textLength="21.39" lengthAdjust="spacingAndGlyphs" fill="#231f20" stroke="#231f20" stroke-width="0.25" >-1000</text>
<line x1="138.65" y1="231.90" x2="138.65" y2="235.40" stroke="#231f20" stroke-width="1.15"/>
<text x="136.26" y="246.80" font-size="8.30" textLength="4.75" lengthAdjust="spacingAndGlyphs" fill="#231f20" stroke="#231f20" stroke-width="0.25" >0</text>
<line x1="168.62" y1="231.90" x2="168.62" y2="235.40" stroke="#231f20" stroke-width="1.15"/>
<text x="159.36" y="246.80" font-size="8.30" textLength="18.20" lengthAdjust="spacingAndGlyphs" fill="#231f20" stroke="#231f20" stroke-width="0.25" >1000</text>
<polyline points="200.87,226.00 201.20,226.02 201.60,226.07 202.00,226.12 202.40,226.14 202.80,226.17 203.20,226.21 203.60,226.12 204.00,226.07 204.40,225.97 204.80,225.96 205.20,225.89 205.60,225.97 206.00,226.01 206.40,226.06 206.80,226.13 207.20,226.16 207.60,226.12 208.00,226.07 208.40,226.11 208.80,226.07 209.20,226.00 209.60,226.00 210.00,226.04 210.40,225.94 210.80,225.89 211.20,225.98 211.60,225.93 212.00,225.94 212.40,226.07 212.80,226.06 213.20,225.99 213.60,226.06 214.00,226.06 214.40,226.00 214.80,225.97 215.20,225.96 215.60,225.95 216.00,225.92 216.40,225.95 216.80,225.99 217.20,226.01 217.60,226.08 218.00,226.09 218.40,226.00 218.80,226.02 219.20,226.02 219.60,225.98 220.00,226.00 220.40,226.02 220.80,226.01 221.20,226.00 221.60,226.02 222.00,226.08 222.40,226.09 222.80,226.13 223.20,226.16 223.60,226.09 224.00,225.99 224.40,225.98 224.80,225.88 225.20,225.84 225.60,225.88 226.00,225.93 226.40,225.94 226.80,226.00 227.20,226.06 227.60,226.12 228.00,226.05 228.40,226.02 228.80,226.02 229.20,226.02 229.60,225.91 230.00,225.96 230.40,225.96 230.80,226.00 231.20,225.97 231.60,225.98 232.00,226.00 232.40,225.98 232.80,225.93 233.20,225.97 233.60,226.01 234.00,225.99 234.40,225.95 234.80,226.01 235.20,225.99 235.60,225.95 236.00,225.87 236.40,225.99 236.80,226.02 237.20,226.03 237.60,226.09 238.00,225.98 238.40,225.68 238.80,225.31 239.20,224.97 239.60,224.63 240.00,224.34 240.40,224.02 240.80,223.79 241.20,223.59 241.60,223.34 242.00,223.10 242.40,222.77 242.80,222.47 243.20,222.03 243.60,221.62 244.00,221.24 244.40,220.82 244.80,220.39 245.20,220.06 245.60,219.61 246.00,219.07 246.40,218.49 246.80,217.76 247.20,216.90 247.60,216.01 248.00,217.15 248.40,218.21 248.80,219.09 249.20,219.71 249.60,220.23 250.00,220.74 250.40,221.21 250.80,221.62 251.20,222.13 251.60,222.52 252.00,222.89 252.40,223.16 252.80,223.50 253.20,223.73 253.60,224.01 254.00,224.19 254.40,224.41 254.80,224.58 255.20,224.83 255.60,225.03 256.00,225.31 256.40,225.59 256.80,225.80 257.20,225.96 257.60,225.92 258.00,225.88 258.40,225.87 258.80,225.87 259.20,225.90 259.60,226.02 260.00,226.05 260.40,226.00 260.80,226.05 261.20,226.01 261.60,225.96 262.00,226.04 262.40,226.04 262.80,226.00 263.20,226.04 263.60,226.06 264.00,226.00 264.40,225.99 264.80,225.98 265.20,225.93 265.60,225.95 266.00,225.96 266.40,225.96 266.80,225.98 267.20,226.02 267.60,225.95 268.00,225.89 268.40,225.96 268.80,225.93 269.20,225.95 269.60,226.03 270.00,226.01 270.40,226.01 270.80,226.06 271.20,226.03 271.60,226.01 272.00,226.06 272.40,226.01 272.80,225.98 273.20,225.97 273.60,225.92 274.00,225.91 274.40,225.94 274.80,225.96 275.20,226.00 275.60,226.01 276.00,226.03 276.40,226.00 276.80,226.06 277.20,226.06 277.60,226.01 278.00,225.99 278.40,225.97 278.80,225.96 279.20,225.95 279.60,226.05 280.00,226.08 280.40,226.07 280.80,226.03 281.20,226.03 281.60,225.95 282.00,226.05 282.40,226.10 282.80,226.06 283.20,226.01 283.60,226.05 284.00,225.91 284.40,225.83 284.80,225.81 285.20,225.87 285.60,225.84 286.00,225.87 286.40,225.93 286.80,226.04 287.20,225.96 287.60,226.01 288.00,225.96 288.40,225.93 288.80,225.92 289.20,225.92 289.60,225.89 290.00,225.91 290.40,225.99 290.80,225.90 291.20,225.99 291.60,226.01 292.00,226.02 292.40,225.98 292.80,226.03 293.20,225.96 293.60,225.92 294.00,225.92 294.33,225.92" fill="none" stroke="#72b254" stroke-opacity="0.6" stroke-width="1.0" stroke-linejoin="round"/>
<polyline points="200.87,226.52 201.20,226.52 201.60,226.44 202.00,226.39 202.40,226.32 202.80,226.33 203.20,226.31 203.60,226.43 204.00,226.41 204.40,226.47 204.80,226.42 205.20,226.47 205.60,226.42 206.00,226.45 206.40,226.48 206.80,226.55 207.20,226.52 207.60,226.45 208.00,226.38 208.40,226.39 208.80,226.39 209.20,226.45 209.60,226.50 210.00,226.51 210.40,226.51 210.80,226.51 211.20,226.46 211.60,226.48 212.00,226.47 212.40,226.42 212.80,226.44 213.20,226.41 213.60,226.39 214.00,226.43 214.40,226.43 214.80,226.31 215.20,226.33 215.60,226.32 216.00,226.32 216.40,226.31 216.80,226.38 217.20,226.36 217.60,226.45 218.00,226.45 218.40,226.52 218.80,226.58 219.20,226.62 219.60,226.51 220.00,226.44 220.40,226.32 220.80,226.26 221.20,226.26 221.60,226.27 222.00,226.34 222.40,226.50 222.80,226.52 223.20,226.47 223.60,226.52 224.00,226.50 224.40,226.31 224.80,226.30 225.20,226.32 225.60,226.29 226.00,226.40 226.40,226.49 226.80,226.45 227.20,226.55 227.60,226.46 228.00,226.35 228.40,226.40 228.80,226.49 229.20,226.42 229.60,226.47 230.00,226.53 230.40,226.48 230.80,226.43 231.20,226.42 231.60,226.40 232.00,226.36 232.40,226.33 232.80,226.30 233.20,226.30 233.60,226.34 234.00,226.30 234.40,226.35 234.80,226.42 235.20,226.42 235.60,226.37 236.00,226.46 236.40,226.44 236.80,226.39 237.20,226.45 237.60,226.48 238.00,226.29 238.40,226.07 238.80,225.81 239.20,225.51 239.60,225.19 240.00,224.97 240.40,224.64 240.80,224.45 241.20,224.29 241.60,224.16 242.00,223.88 242.40,223.66 242.80,223.36 243.20,223.01 243.60,222.62 244.00,222.33 244.40,221.90 244.80,221.46 245.20,221.02 245.60,220.57 246.00,220.11 246.40,219.45 246.80,218.81 247.20,218.06 247.60,217.31 248.00,218.29 248.40,219.29 248.80,220.10 249.20,220.74 249.60,221.15 250.00,221.61 250.40,222.09 250.80,222.51 251.20,222.90 251.60,223.40 252.00,223.71 252.40,223.98 252.80,224.21 253.20,224.45 253.60,224.57 254.00,224.84 254.40,225.13 254.80,225.37 255.20,225.56 255.60,225.84 256.00,226.06 256.40,226.24 256.80,226.37 257.20,226.52 257.60,226.40 258.00,226.34 258.40,226.18 258.80,226.27 259.20,226.32 259.60,226.42 260.00,226.46 260.40,226.54 260.80,226.47 261.20,226.41 261.60,226.45 262.00,226.43 262.40,226.49 262.80,226.53 263.20,226.54 263.60,226.46 264.00,226.46 264.40,226.36 264.80,226.31 265.20,226.36 265.60,226.35 266.00,226.33 266.40,226.36 266.80,226.38 267.20,226.36 267.60,226.40 268.00,226.41 268.40,226.42 268.80,226.42 269.20,226.48 269.60,226.40 270.00,226.48 270.40,226.45 270.80,226.49 271.20,226.43 271.60,226.49 272.00,226.44 272.40,226.44 272.80,226.37 273.20,226.38 273.60,226.45 274.00,226.36 274.40,226.37 274.80,226.45 275.20,226.44 275.60,226.44 276.00,226.42 276.40,226.37 276.80,226.30 277.20,226.27 277.60,226.18 278.00,226.29 278.40,226.30 278.80,226.33 279.20,226.38 279.60,226.40 280.00,226.46 280.40,226.48 280.80,226.56 281.20,226.52 281.60,226.55 282.00,226.48 282.40,226.47 282.80,226.41 283.20,226.49 283.60,226.50 284.00,226.49 284.40,226.57 284.80,226.58 285.20,226.54 285.60,226.40 286.00,226.39 286.40,226.37 286.80,226.29 287.20,226.16 287.60,226.23 288.00,226.23 288.40,226.13 288.80,226.15 289.20,226.28 289.60,226.27 290.00,226.26 290.40,226.38 290.80,226.39 291.20,226.33 291.60,226.39 292.00,226.44 292.40,226.39 292.80,226.39 293.20,226.41 293.60,226.50 294.00,226.49 294.33,226.50" fill="none" stroke="#72b254" stroke-opacity="0.55" stroke-width="1.0" stroke-linejoin="round"/>
<rect x="195.60" y="149.10" width="102.80" height="82.80" fill="none" stroke="#1a1a1a" stroke-width="1.6"/>
<line x1="192.30" y1="227.80" x2="195.60" y2="227.80" stroke="#231f20" stroke-width="1.1"/>
<line x1="192.30" y1="207.46" x2="195.60" y2="207.46" stroke="#231f20" stroke-width="1.1"/>
<line x1="192.30" y1="187.12" x2="195.60" y2="187.12" stroke="#231f20" stroke-width="1.1"/>
<line x1="192.30" y1="166.78" x2="195.60" y2="166.78" stroke="#231f20" stroke-width="1.1"/>
<line x1="215.85" y1="231.90" x2="215.85" y2="235.40" stroke="#231f20" stroke-width="1.15"/>
<text x="205.12" y="246.80" font-size="8.30" textLength="21.39" lengthAdjust="spacingAndGlyphs" fill="#231f20" stroke="#231f20" stroke-width="0.25" >-1000</text>
<line x1="247.00" y1="231.90" x2="247.00" y2="235.40" stroke="#231f20" stroke-width="1.15"/>
<text x="244.61" y="246.80" font-size="8.30" textLength="4.75" lengthAdjust="spacingAndGlyphs" fill="#231f20" stroke="#231f20" stroke-width="0.25" >0</text>
<line x1="278.15" y1="231.90" x2="278.15" y2="235.40" stroke="#231f20" stroke-width="1.15"/>
<text x="268.89" y="246.80" font-size="8.30" textLength="18.20" lengthAdjust="spacingAndGlyphs" fill="#231f20" stroke="#231f20" stroke-width="0.25" >1000</text>
<polyline points="311.19,225.72 311.30,225.73 311.70,225.68 312.10,225.65 312.50,225.67 312.90,225.72 313.30,225.68 313.70,225.74 314.10,225.73 314.50,225.78 314.90,225.73 315.30,225.72 315.70,225.71 316.10,225.81 316.50,225.78 316.90,225.75 317.30,225.75 317.70,225.86 318.10,225.78 318.50,225.79 318.90,225.86 319.30,225.96 319.70,225.89 320.10,225.92 320.50,225.93 320.90,225.90 321.30,225.84 321.70,225.80 322.10,225.72 322.50,225.62 322.90,225.69 323.30,225.73 323.70,225.77 324.10,225.84 324.50,225.95 324.90,225.86 325.30,225.77 325.70,225.72 326.10,225.67 326.50,225.63 326.90,225.62 327.30,225.69 327.70,225.73 328.10,225.82 328.50,225.92 328.90,225.94 329.30,225.94 329.70,225.92 330.10,225.87 330.50,225.88 330.90,225.97 331.30,225.97 331.70,226.01 332.10,226.02 332.50,225.94 332.90,225.87 333.30,225.82 333.70,225.84 334.10,225.78 334.50,225.77 334.90,225.77 335.30,225.76 335.70,225.77 336.10,225.82 336.50,225.75 336.90,225.72 337.30,225.79 337.70,225.71 338.10,225.69 338.50,225.79 338.90,225.84 339.30,225.78 339.70,225.80 340.10,225.79 340.50,225.64 340.90,225.54 341.30,225.47 341.70,225.37 342.10,225.29 342.50,225.21 342.90,225.05 343.30,224.95 343.70,224.77 344.10,224.48 344.50,224.17 344.90,223.90 345.30,223.49 345.70,222.92 346.10,222.43 346.50,222.04 346.90,221.55 347.30,221.03 347.70,220.57 348.10,219.89 348.50,219.23 348.90,218.45 349.30,217.57 349.70,216.45 350.10,215.31 350.50,213.74 350.90,211.94 351.30,209.90 351.70,207.59 352.10,204.96 352.50,202.59 352.90,200.68 353.30,198.63 353.70,196.42 354.10,194.03 354.50,191.46 354.90,188.65 355.30,185.43 355.70,181.20 356.10,173.86 356.50,181.24 356.90,185.48 357.30,188.62 357.70,191.37 358.10,193.65 358.50,195.84 358.90,197.92 359.30,199.89 359.70,201.67 360.10,203.31 360.50,206.48 360.90,209.21 361.30,211.47 361.70,213.44 362.10,215.28 362.50,216.61 362.90,217.73 363.30,218.81 363.70,219.67 364.10,220.37 364.50,221.05 364.90,221.56 365.30,222.08 365.70,222.56 366.10,223.11 366.50,223.43 366.90,223.80 367.30,224.05 367.70,224.31 368.10,224.47 368.50,224.74 368.90,224.89 369.30,225.02 369.70,225.17 370.10,225.23 370.50,225.31 370.90,225.48 371.30,225.63 371.70,225.71 372.10,225.89 372.50,225.91 372.90,225.89 373.30,225.92 373.70,225.93 374.10,225.84 374.50,225.84 374.90,225.86 375.30,225.87 375.70,225.85 376.10,225.91 376.50,225.84 376.90,225.78 377.30,225.74 377.70,225.82 378.10,225.83 378.50,225.83 378.90,225.86 379.30,225.80 379.70,225.75 380.10,225.77 380.50,225.76 380.90,225.77 381.30,225.80 381.70,225.75 382.10,225.77 382.50,225.82 382.90,225.83 383.30,225.81 383.70,225.83 384.10,225.82 384.50,225.83 384.90,225.92 385.30,226.00 385.70,226.02 386.10,225.98 386.50,225.87 386.90,225.80 387.30,225.70 387.70,225.70 388.10,225.68 388.50,225.77 388.90,225.77 389.30,225.86 389.70,225.89 390.10,225.91 390.50,225.92 390.90,225.91 391.30,225.85 391.70,225.85 392.10,225.84 392.50,225.83 392.90,225.84 393.30,225.86 393.70,225.79 394.10,225.84 394.50,225.81 394.90,225.78 395.30,225.83 395.70,225.84 396.10,225.80 396.50,225.83 396.90,225.79 397.30,225.73 397.70,225.75 398.10,225.78 398.50,225.70 398.90,225.76 399.30,225.82 399.70,225.80 400.10,225.76 400.50,225.76 400.90,225.74 401.01,225.71" fill="none" stroke="#c2304c" stroke-opacity="0.6" stroke-width="1.0" stroke-linejoin="round"/>
<polyline points="311.19,226.21 311.30,226.26 311.70,226.30 312.10,226.36 312.50,226.43 312.90,226.39 313.30,226.35 313.70,226.29 314.10,226.30 314.50,226.35 314.90,226.30 315.30,226.29 315.70,226.32 316.10,226.17 316.50,226.18 316.90,226.23 317.30,226.19 317.70,226.16 318.10,226.19 318.50,226.18 318.90,226.22 319.30,226.24 319.70,226.22 320.10,226.27 320.50,226.18 320.90,226.17 321.30,226.15 321.70,226.20 322.10,226.23 322.50,226.27 322.90,226.27 323.30,226.31 323.70,226.33 324.10,226.33 324.50,226.36 324.90,226.37 325.30,226.32 325.70,226.20 326.10,226.12 326.50,226.23 326.90,226.22 327.30,226.23 327.70,226.33 328.10,226.38 328.50,226.28 328.90,226.30 329.30,226.29 329.70,226.24 330.10,226.28 330.50,226.22 330.90,226.20 331.30,226.21 331.70,226.26 332.10,226.25 332.50,226.26 332.90,226.30 333.30,226.29 333.70,226.25 334.10,226.21 334.50,226.23 334.90,226.16 335.30,226.07 335.70,226.07 336.10,226.09 336.50,226.11 336.90,226.14 337.30,226.36 337.70,226.41 338.10,226.37 338.50,226.35 338.90,226.36 339.30,226.28 339.70,226.29 340.10,226.34 340.50,226.23 340.90,226.17 341.30,226.10 341.70,225.97 342.10,225.84 342.50,225.80 342.90,225.64 343.30,225.44 343.70,225.30 344.10,225.11 344.50,224.92 344.90,224.49 345.30,224.22 345.70,223.73 346.10,223.23 346.50,222.79 346.90,222.61 347.30,222.05 347.70,221.58 348.10,221.07 348.50,220.40 348.90,219.52 349.30,218.71 349.70,217.81 350.10,216.69 350.50,215.28 350.90,213.74 351.30,211.95 351.70,209.84 352.10,207.52 352.50,205.39 352.90,203.64 353.30,201.81 353.70,199.73 354.10,197.51 354.50,195.21 354.90,192.64 355.30,189.77 355.70,185.98 356.10,179.41 356.50,186.08 356.90,189.97 357.30,192.87 357.70,195.40 358.10,197.41 358.50,199.35 358.90,201.25 359.30,202.90 359.70,204.49 360.10,206.06 360.50,208.96 360.90,211.33 361.30,213.39 361.70,215.14 362.10,216.66 362.50,217.75 362.90,218.79 363.30,219.71 363.70,220.56 364.10,221.29 364.50,221.93 364.90,222.43 365.30,222.99 365.70,223.29 366.10,223.71 366.50,224.08 366.90,224.39 367.30,224.66 367.70,224.94 368.10,225.12 368.50,225.29 368.90,225.52 369.30,225.59 369.70,225.68 370.10,225.80 370.50,225.89 370.90,225.99 371.30,226.11 371.70,226.24 372.10,226.34 372.50,226.38 372.90,226.34 373.30,226.31 373.70,226.35 374.10,226.35 374.50,226.32 374.90,226.30 375.30,226.27 375.70,226.23 376.10,226.26 376.50,226.19 376.90,226.21 377.30,226.24 377.70,226.26 378.10,226.23 378.50,226.26 378.90,226.30 379.30,226.29 379.70,226.28 380.10,226.25 380.50,226.28 380.90,226.25 381.30,226.22 381.70,226.16 382.10,226.14 382.50,226.07 382.90,226.13 383.30,226.12 383.70,226.24 384.10,226.21 384.50,226.27 384.90,226.27 385.30,226.24 385.70,226.12 386.10,226.21 386.50,226.24 386.90,226.19 387.30,226.21 387.70,226.25 388.10,226.31 388.50,226.34 388.90,226.34 389.30,226.34 389.70,226.33 390.10,226.31 390.50,226.31 390.90,226.24 391.30,226.25 391.70,226.28 392.10,226.29 392.50,226.19 392.90,226.25 393.30,226.34 393.70,226.36 394.10,226.23 394.50,226.27 394.90,226.28 395.30,226.21 395.70,226.19 396.10,226.24 396.50,226.32 396.90,226.24 397.30,226.24 397.70,226.27 398.10,226.23 398.50,226.21 398.90,226.25 399.30,226.24 399.70,226.24 400.10,226.32 400.50,226.33 400.90,226.36 401.01,226.38" fill="none" stroke="#c2304c" stroke-opacity="0.55" stroke-width="1.0" stroke-linejoin="round"/>
<rect x="306.20" y="149.10" width="98.80" height="82.80" fill="none" stroke="#1a1a1a" stroke-width="1.6"/>
<line x1="302.90" y1="227.80" x2="306.20" y2="227.80" stroke="#231f20" stroke-width="1.1"/>
<line x1="302.90" y1="207.46" x2="306.20" y2="207.46" stroke="#231f20" stroke-width="1.1"/>
<line x1="302.90" y1="187.12" x2="306.20" y2="187.12" stroke="#231f20" stroke-width="1.1"/>
<line x1="302.90" y1="166.78" x2="306.20" y2="166.78" stroke="#231f20" stroke-width="1.1"/>
<line x1="325.66" y1="231.90" x2="325.66" y2="235.40" stroke="#231f20" stroke-width="1.15"/>
<text x="314.93" y="246.80" font-size="8.30" textLength="21.39" lengthAdjust="spacingAndGlyphs" fill="#231f20" stroke="#231f20" stroke-width="0.25" >-1000</text>
<line x1="355.60" y1="231.90" x2="355.60" y2="235.40" stroke="#231f20" stroke-width="1.15"/>
<text x="353.21" y="246.80" font-size="8.30" textLength="4.75" lengthAdjust="spacingAndGlyphs" fill="#231f20" stroke="#231f20" stroke-width="0.25" >0</text>
<line x1="385.54" y1="231.90" x2="385.54" y2="235.40" stroke="#231f20" stroke-width="1.15"/>
<text x="376.28" y="246.80" font-size="8.30" textLength="18.20" lengthAdjust="spacingAndGlyphs" fill="#231f20" stroke="#231f20" stroke-width="0.25" >1000</text>
<polyline points="417.22,225.37 417.60,225.36 418.00,225.33 418.40,225.32 418.80,225.37 419.20,225.41 419.60,225.44 420.00,225.41 420.40,225.36 420.80,225.33 421.20,225.30 421.60,225.26 422.00,225.32 422.40,225.33 422.80,225.38 423.20,225.34 423.60,225.40 424.00,225.39 424.40,225.46 424.80,225.45 425.20,225.55 425.60,225.57 426.00,225.61 426.40,225.56 426.80,225.55 427.20,225.45 427.60,225.41 428.00,225.36 428.40,225.47 428.80,225.50 429.20,225.50 429.60,225.48 430.00,225.47 430.40,225.39 430.80,225.34 431.20,225.41 431.60,225.38 432.00,225.42 432.40,225.46 432.80,225.42 433.20,225.41 433.60,225.45 434.00,225.45 434.40,225.39 434.80,225.41 435.20,225.41 435.60,225.42 436.00,225.43 436.40,225.44 436.80,225.43 437.20,225.40 437.60,225.41 438.00,225.31 438.40,225.38 438.80,225.37 439.20,225.33 439.60,225.31 440.00,225.44 440.40,225.38 440.80,225.38 441.20,225.42 441.60,225.46 442.00,225.45 442.40,225.49 442.80,225.53 443.20,225.53 443.60,225.51 444.00,225.43 444.40,225.37 444.80,225.29 445.20,225.27 445.60,225.32 446.00,225.35 446.40,225.39 446.80,225.41 447.20,225.43 447.60,225.35 448.00,225.24 448.40,225.10 448.80,224.98 449.20,224.87 449.60,224.70 450.00,224.63 450.40,224.46 450.80,224.28 451.20,223.92 451.60,223.64 452.00,223.20 452.40,222.72 452.80,222.14 453.20,221.77 453.60,221.36 454.00,220.92 454.40,220.39 454.80,219.72 455.20,218.99 455.60,218.22 456.00,217.27 456.40,216.20 456.80,215.15 457.20,213.58 457.60,211.74 458.00,209.77 458.40,207.50 458.80,204.84 459.20,202.67 459.60,200.64 460.00,198.39 460.40,195.96 460.80,193.31 461.20,190.36 461.60,187.09 462.00,182.73 462.40,175.32 462.80,182.77 463.20,186.71 463.60,188.95 464.00,191.11 464.40,193.41 464.80,195.79 465.20,197.96 465.60,200.00 466.00,201.91 466.40,203.70 466.80,206.49 467.20,209.33 467.60,211.83 468.00,213.89 468.40,215.58 468.80,216.82 469.20,217.82 469.60,218.65 470.00,219.46 470.40,220.14 470.80,220.69 471.20,221.28 471.60,221.77 472.00,222.24 472.40,222.81 472.80,223.27 473.20,223.65 473.60,223.97 474.00,224.24 474.40,224.43 474.80,224.63 475.20,224.77 475.60,224.90 476.00,225.01 476.40,225.18 476.80,225.29 477.20,225.31 477.60,225.33 478.00,225.31 478.40,225.32 478.80,225.38 479.20,225.35 479.60,225.35 480.00,225.33 480.40,225.29 480.80,225.24 481.20,225.24 481.60,225.23 482.00,225.30 482.40,225.42 482.80,225.46 483.20,225.48 483.60,225.46 484.00,225.47 484.40,225.26 484.80,225.19 485.20,225.16 485.60,225.21 486.00,225.26 486.40,225.40 486.80,225.46 487.20,225.36 487.60,225.39 488.00,225.29 488.40,225.24 488.80,225.24 489.20,225.43 489.60,225.34 490.00,225.33 490.40,225.35 490.80,225.35 491.20,225.36 491.60,225.39 492.00,225.39 492.40,225.42 492.80,225.38 493.20,225.31 493.60,225.35 494.00,225.41 494.40,225.41 494.80,225.49 495.20,225.44 495.60,225.34 496.00,225.34 496.40,225.27 496.80,225.29 497.20,225.36 497.60,225.46 498.00,225.47 498.40,225.54 498.80,225.53 499.20,225.56 499.60,225.57 500.00,225.56 500.40,225.50 500.80,225.43 501.20,225.41 501.60,225.36 502.00,225.34 502.40,225.45 502.80,225.49 503.20,225.42 503.60,225.46 504.00,225.43 504.40,225.43 504.80,225.44 505.20,225.47 505.60,225.42 506.00,225.46 506.40,225.42 506.80,225.34 507.20,225.36 507.58,225.38" fill="none" stroke="#eba848" stroke-opacity="0.6" stroke-width="1.0" stroke-linejoin="round"/>
<polyline points="417.22,225.91 417.60,225.82 418.00,225.77 418.40,225.76 418.80,225.79 419.20,225.74 419.60,225.85 420.00,225.90 420.40,225.90 420.80,225.84 421.20,225.85 421.60,225.80 422.00,225.73 422.40,225.73 422.80,225.75 423.20,225.84 423.60,225.91 424.00,225.97 424.40,225.96 424.80,225.84 425.20,225.82 425.60,225.83 426.00,225.81 426.40,225.81 426.80,225.93 427.20,225.94 427.60,225.90 428.00,225.83 428.40,225.80 428.80,225.76 429.20,225.73 429.60,225.81 430.00,225.85 430.40,225.82 430.80,225.89 431.20,225.79 431.60,225.73 432.00,225.72 432.40,225.77 432.80,225.76 433.20,225.80 433.60,225.84 434.00,225.91 434.40,225.95 434.80,225.95 435.20,226.03 435.60,226.01 436.00,226.04 436.40,226.04 436.80,225.92 437.20,225.84 437.60,225.80 438.00,225.78 438.40,225.81 438.80,225.91 439.20,225.99 439.60,225.93 440.00,225.87 440.40,225.78 440.80,225.79 441.20,225.75 441.60,225.82 442.00,225.90 442.40,225.89 442.80,225.97 443.20,225.96 443.60,225.98 444.00,225.88 444.40,225.92 444.80,225.83 445.20,225.78 445.60,225.74 446.00,225.76 446.40,225.73 446.80,225.73 447.20,225.78 447.60,225.83 448.00,225.85 448.40,225.72 448.80,225.63 449.20,225.47 449.60,225.33 450.00,225.15 450.40,225.06 450.80,224.82 451.20,224.63 451.60,224.29 452.00,223.89 452.40,223.47 452.80,222.98 453.20,222.48 453.60,222.06 454.00,221.62 454.40,221.01 454.80,220.42 455.20,219.87 455.60,219.17 456.00,218.47 456.40,217.63 456.80,216.71 457.20,215.32 457.60,213.77 458.00,211.91 458.40,209.79 458.80,207.35 459.20,205.45 459.60,203.56 460.00,201.51 460.40,199.44 460.80,197.10 461.20,194.38 461.60,191.50 462.00,187.62 462.40,180.89 462.80,187.52 463.20,191.02 463.60,193.02 464.00,194.96 464.40,197.11 464.80,199.24 465.20,201.28 465.60,203.15 466.00,204.78 466.40,206.36 466.80,209.00 467.20,211.44 467.60,213.59 468.00,215.57 468.40,217.05 468.80,217.99 469.20,218.90 469.60,219.70 470.00,220.37 470.40,221.02 470.80,221.65 471.20,222.27 471.60,222.74 472.00,223.15 472.40,223.64 472.80,224.04 473.20,224.26 473.60,224.49 474.00,224.71 474.40,224.91 474.80,225.11 475.20,225.25 475.60,225.47 476.00,225.65 476.40,225.79 476.80,225.86 477.20,225.87 477.60,225.84 478.00,225.88 478.40,225.85 478.80,225.87 479.20,225.91 479.60,225.95 480.00,225.91 480.40,225.95 480.80,225.92 481.20,225.96 481.60,225.96 482.00,225.93 482.40,225.91 482.80,225.92 483.20,225.82 483.60,225.84 484.00,225.82 484.40,225.86 484.80,225.79 485.20,225.95 485.60,225.88 486.00,225.91 486.40,225.89 486.80,225.93 487.20,225.93 487.60,226.00 488.00,225.96 488.40,225.95 488.80,225.99 489.20,225.98 489.60,225.86 490.00,225.87 490.40,225.90 490.80,225.85 491.20,225.77 491.60,225.87 492.00,225.86 492.40,225.77 492.80,225.79 493.20,225.85 493.60,225.81 494.00,225.80 494.40,225.82 494.80,225.77 495.20,225.71 495.60,225.71 496.00,225.71 496.40,225.69 496.80,225.80 497.20,225.83 497.60,225.86 498.00,225.89 498.40,225.99 498.80,225.93 499.20,225.99 499.60,226.01 500.00,225.98 500.40,225.84 500.80,225.84 501.20,225.79 501.60,225.74 502.00,225.71 502.40,225.83 502.80,225.82 503.20,225.85 503.60,225.84 504.00,225.92 504.40,225.90 504.80,225.87 505.20,225.80 505.60,225.80 506.00,225.78 506.40,225.72 506.80,225.81 507.20,225.83 507.58,225.85" fill="none" stroke="#eba848" stroke-opacity="0.55" stroke-width="1.0" stroke-linejoin="round"/>
<rect x="412.40" y="149.10" width="99.40" height="82.80" fill="none" stroke="#1a1a1a" stroke-width="1.6"/>
<line x1="409.10" y1="227.80" x2="412.40" y2="227.80" stroke="#231f20" stroke-width="1.1"/>
<line x1="409.10" y1="207.46" x2="412.40" y2="207.46" stroke="#231f20" stroke-width="1.1"/>
<line x1="409.10" y1="187.12" x2="412.40" y2="187.12" stroke="#231f20" stroke-width="1.1"/>
<line x1="409.10" y1="166.78" x2="412.40" y2="166.78" stroke="#231f20" stroke-width="1.1"/>
<line x1="431.98" y1="231.90" x2="431.98" y2="235.40" stroke="#231f20" stroke-width="1.15"/>
<text x="421.25" y="246.80" font-size="8.30" textLength="21.39" lengthAdjust="spacingAndGlyphs" fill="#231f20" stroke="#231f20" stroke-width="0.25" >-1000</text>
<line x1="462.10" y1="231.90" x2="462.10" y2="235.40" stroke="#231f20" stroke-width="1.15"/>
<text x="459.71" y="246.80" font-size="8.30" textLength="4.75" lengthAdjust="spacingAndGlyphs" fill="#231f20" stroke="#231f20" stroke-width="0.25" >0</text>
<line x1="492.22" y1="231.90" x2="492.22" y2="235.40" stroke="#231f20" stroke-width="1.15"/>
<text x="482.96" y="246.80" font-size="8.30" textLength="18.20" lengthAdjust="spacingAndGlyphs" fill="#231f20" stroke="#231f20" stroke-width="0.25" >1000</text>
<line x1="89.90" y1="215.40" x2="511.10" y2="215.40" stroke="#000" stroke-width="1.2" stroke-dasharray="2.35 1.3"/>
<text x="77.43" y="230.70" font-size="8.20" textLength="5.10" lengthAdjust="spacingAndGlyphs" fill="#231f20" stroke="#231f20" stroke-width="0.25" >0</text>
<text x="70.66" y="210.36" font-size="8.20" textLength="11.89" lengthAdjust="spacingAndGlyphs" fill="#231f20" stroke="#231f20" stroke-width="0.25" >0.3</text>
<text x="70.66" y="190.02" font-size="8.20" textLength="11.89" lengthAdjust="spacingAndGlyphs" fill="#231f20" stroke="#231f20" stroke-width="0.25" >0.6</text>
<text x="70.66" y="169.68" font-size="8.20" textLength="11.93" lengthAdjust="spacingAndGlyphs" fill="#231f20" stroke="#231f20" stroke-width="0.25" >0.9</text>
<text transform="translate(64.00,102.40) rotate(-90)" x="-0.80" y="0" font-size="9.80" textLength="78.57" lengthAdjust="spacingAndGlyphs" fill="#231f20" stroke="#231f20" stroke-width="0.25">Normalized reads</text>
<text transform="translate(64.00,229.40) rotate(-90)" x="-0.80" y="0" font-size="9.80" textLength="78.67" lengthAdjust="spacingAndGlyphs" fill="#231f20" stroke="#231f20" stroke-width="0.25">Normalized reads</text>
<text x="115.41" y="16.20" font-size="10.00" textLength="46.09" lengthAdjust="spacingAndGlyphs" fill="#231f20" stroke="#231f20" stroke-width="0.25" >Untreated</text>
<text x="234.01" y="16.20" font-size="10.00" textLength="23.36" lengthAdjust="spacingAndGlyphs" fill="#231f20" stroke="#231f20" stroke-width="0.25" >TPA+</text>
<text x="331.28" y="16.20" font-size="10.00" textLength="30.33" lengthAdjust="spacingAndGlyphs" fill="#231f20" stroke="#231f20" stroke-width="0.25" >MRTFA</text>
<text x="361.67" y="12.90" font-size="7.25" textLength="10.62" lengthAdjust="spacingAndGlyphs" fill="#231f20" stroke="#231f20" stroke-width="0.25" >OE</text>
<text x="426.18" y="16.20" font-size="10.00" textLength="30.53" lengthAdjust="spacingAndGlyphs" fill="#231f20" stroke="#231f20" stroke-width="0.25" >MRTFA</text>
<text x="456.65" y="12.90" font-size="7.25" textLength="11.16" lengthAdjust="spacingAndGlyphs" fill="#231f20" stroke="#231f20" stroke-width="0.25" >OE</text>
<text x="467.71" y="16.20" font-size="10.00" textLength="22.75" lengthAdjust="spacingAndGlyphs" fill="#231f20" stroke="#231f20" stroke-width="0.25" >TPA+</text>
<text x="8.30" y="18.45" font-size="12.61" textLength="7.52" lengthAdjust="spacingAndGlyphs" fill="#231f20" stroke="#231f20" stroke-width="0.45" >A</text>
<text x="7.59" y="149.50" font-size="12.03" textLength="7.61" lengthAdjust="spacingAndGlyphs" fill="#231f20" stroke="#231f20" stroke-width="0.45" >B</text>
<text x="9.95" y="50.90" font-size="8.55" textLength="36.50" lengthAdjust="spacingAndGlyphs" fill="#231f20" stroke="#231f20" stroke-width="0.25" >Increased</text>
<text x="13.49" y="61.40" font-size="8.55" textLength="30.12" lengthAdjust="spacingAndGlyphs" fill="#231f20" stroke="#231f20" stroke-width="0.25" >binding</text>
<text x="12.60" y="72.20" font-size="8.55" textLength="32.13" lengthAdjust="spacingAndGlyphs" fill="#231f20" stroke="#231f20" stroke-width="0.25" >with TPA</text>
<text x="13.56" y="82.40" font-size="8.55" textLength="30.38" lengthAdjust="spacingAndGlyphs" fill="#231f20" stroke="#231f20" stroke-width="0.25" >(n=211)</text>
<text x="8.13" y="178.00" font-size="8.55" textLength="40.32" lengthAdjust="spacingAndGlyphs" fill="#231f20" stroke="#231f20" stroke-width="0.25" >Decreased</text>
<text x="13.39" y="188.30" font-size="8.55" textLength="30.43" lengthAdjust="spacingAndGlyphs" fill="#231f20" stroke="#231f20" stroke-width="0.25" >binding</text>
<text x="12.80" y="199.00" font-size="8.55" textLength="31.83" lengthAdjust="spacingAndGlyphs" fill="#231f20" stroke="#231f20" stroke-width="0.25" >with TPA</text>
<text x="13.57" y="209.40" font-size="8.55" textLength="30.60" lengthAdjust="spacingAndGlyphs" fill="#231f20" stroke="#231f20" stroke-width="0.25" >(n=278)</text>
<line x1="435.80" y1="58.00" x2="449.88" y2="43.78" stroke="#111" stroke-width="1.5"/>
<polygon points="454.80,38.80 451.73,47.02 449.74,43.92 446.61,41.95" fill="#111"/>
<line x1="438.70" y1="200.50" x2="453.02" y2="186.32" stroke="#111" stroke-width="1.5"/>
<polygon points="458.00,181.40 454.85,189.59 452.88,186.46 449.78,184.47" fill="#111"/>
<line x1="468.50" y1="35.30" x2="468.50" y2="39.50" stroke="#333" stroke-width="1.0"/>
<line x1="466.68" y1="36.35" x2="470.32" y2="38.45" stroke="#333" stroke-width="1.0"/>
<line x1="466.68" y1="38.45" x2="470.32" y2="36.35" stroke="#333" stroke-width="1.0"/>
<line x1="475.20" y1="182.70" x2="475.20" y2="186.90" stroke="#333" stroke-width="1.0"/>
<line x1="473.38" y1="183.75" x2="477.02" y2="185.85" stroke="#333" stroke-width="1.0"/>
<line x1="473.38" y1="185.85" x2="477.02" y2="183.75" stroke="#333" stroke-width="1.0"/>
<text x="253.69" y="261.20" font-size="10.43" textLength="93.47" lengthAdjust="spacingAndGlyphs" fill="#231f20" stroke="#231f20" stroke-width="0.25" >Distance from center</text>
<text x="8.39" y="297.40" font-size="12.17" textLength="7.39" lengthAdjust="spacingAndGlyphs" fill="#231f20" stroke="#231f20" stroke-width="0.45" >C</text>
<text x="7.93" y="369.90" font-size="12.17" textLength="8.74" lengthAdjust="spacingAndGlyphs" fill="#231f20" stroke="#231f20" stroke-width="0.45" >D</text>
<line x1="74.8" y1="320.0" x2="171" y2="320.0" stroke="#333" stroke-width="1.35"/>
<ellipse cx="103.5" cy="307.7" rx="18.4" ry="10.95" fill="#8f97c0" stroke="#111" stroke-width="1.3"/>
<ellipse cx="141.2" cy="307.7" rx="18.4" ry="10.95" fill="#8f97c0" stroke="#111" stroke-width="1.3"/>
<ellipse cx="103.6" cy="294.2" rx="18.15" ry="11.7" fill="#d38b7e" stroke="#111" stroke-width="1.3"/>
<ellipse cx="141.2" cy="294.2" rx="18.15" ry="11.7" fill="#d38b7e" stroke="#111" stroke-width="1.3"/>
<text x="111.90" y="330.40" font-size="8.84" textLength="20.21" lengthAdjust="spacingAndGlyphs" fill="#231f20" stroke="#231f20" stroke-width="0.25" >CArG</text>
<polyline points="166.8,320.2 166.8,282.2 176.6,282.2" fill="none" stroke="#111" stroke-width="1.35"/>
<path d="M183.6,282.2 Q178.4,279.2 172.6,277.45 L174.79999999999998,282.2 L172.6,286.95 Q178.4,285.2 183.6,282.2 Z" fill="#111"/>
<rect x="170.5" y="306.5" width="56" height="23.6" fill="#a96b25" stroke="#2a2a2a" stroke-width="1"/>
<text x="184.34" y="321.30" font-size="9.13" textLength="27.57" lengthAdjust="spacingAndGlyphs" fill="#f3e9dc" stroke="#f3e9dc" stroke-width="0.25" >Gene A</text>
<polygon points="69.35,365.3 68.5,368.5 67.6,371.8 65.9,377.3 64.5,382.9 65.2,384.8 66.9,386.3 69.2,388.1 71.8,389.8 74.5,391.6 77.3,393.2 79.8,394.6 82.2,395.7 84.3,396.2 86.3,396.4 92,396 92,381 84.2,380.1 82.2,379 80,377.8 78,376.6 75.8,375.2 73.9,373.9 71.6,372.2 70.0,371.1 69.8,368" fill="#5fab40"/>
<polygon points="96.3,371.6 100,367.5 104,364.8 107,363.8 110,363.6 147.5,364.6 148.8,365 149.6,366 149.8,367.5 149.8,372.2 140,383 121,384 102,383 96.3,380" fill="#5fab40"/>
<line x1="69.0" y1="395.3" x2="171" y2="395.3" stroke="#333" stroke-width="1.35"/>
<text x="116.16" y="372.80" font-size="8.41" textLength="13.41" lengthAdjust="spacingAndGlyphs" fill="#f4faef" stroke="#f4faef" stroke-width="0.35" >TCF</text>
<ellipse cx="102.8" cy="383.2" rx="18.1" ry="11.75" fill="#8f97c0" stroke="#111" stroke-width="1.3"/>
<ellipse cx="140.35" cy="383.2" rx="18.1" ry="11.75" fill="#8f97c0" stroke="#111" stroke-width="1.3"/>
<text x="78.00" y="405.80" font-size="8.70" textLength="14.53" lengthAdjust="spacingAndGlyphs" fill="#231f20" stroke="#231f20" stroke-width="0.25" >ETS</text>
<text x="111.40" y="406.80" font-size="8.70" textLength="20.11" lengthAdjust="spacingAndGlyphs" fill="#231f20" stroke="#231f20" stroke-width="0.25" >CArG</text>
<polyline points="166.9,395.6 166.9,354.0 176.1,354.0" fill="none" stroke="#111" stroke-width="1.35"/>
<path d="M183.1,354.0 Q177.9,351.0 172.1,349.25 L174.29999999999998,354.0 L172.1,358.75 Q177.9,357.0 183.1,354.0 Z" fill="#111"/>
<rect x="170.9" y="385.1" width="56" height="23.6" fill="#a96b25" stroke="#2a2a2a" stroke-width="1"/>
<text x="185.40" y="400.10" font-size="8.99" textLength="26.90" lengthAdjust="spacingAndGlyphs" fill="#f3e9dc" stroke="#f3e9dc" stroke-width="0.25" >Gene B</text>
<ellipse cx="51.3" cy="442.6" rx="9.6" ry="6.1" fill="#8f97c0" stroke="#111" stroke-width="1.2"/>
<ellipse cx="51.3" cy="462.7" rx="9.6" ry="6.1" fill="#d38b7e" stroke="#111" stroke-width="1.2"/>
<text x="64.71" y="445.60" font-size="8.70" textLength="13.06" lengthAdjust="spacingAndGlyphs" fill="#231f20" stroke="#231f20" stroke-width="0.25" >SRF</text>
<text x="64.42" y="466.30" font-size="8.84" textLength="24.28" lengthAdjust="spacingAndGlyphs" fill="#231f20" stroke="#231f20" stroke-width="0.25" >MRTFA</text>
<text x="270.62" y="297.70" font-size="12.46" textLength="6.49" lengthAdjust="spacingAndGlyphs" fill="#231f20" stroke="#231f20" stroke-width="0.25" >E</text>
<text x="270.63" y="369.80" font-size="12.03" textLength="5.86" lengthAdjust="spacingAndGlyphs" fill="#231f20" stroke="#231f20" stroke-width="0.25" >F</text>
<text x="294.30" y="309.50" font-size="9.13" textLength="48.42" lengthAdjust="spacingAndGlyphs" fill="#231f20" stroke="#231f20" stroke-width="0.25" >CArG(MADS)</text>
<text x="295.51" y="393.10" font-size="9.13" textLength="39.56" lengthAdjust="spacingAndGlyphs" fill="#231f20" stroke="#231f20" stroke-width="0.25" >ETS (ETV1)</text>
<text transform="translate(351.39,301.72) scale(0.1526,0.0789)" font-size="100" font-weight="bold" fill="#ffae00" stroke="#ffae00" stroke-width="0.65" vector-effect="non-scaling-stroke">G</text>
<text transform="translate(351.83,307.20) scale(0.1746,0.0739)" font-size="100" font-weight="bold" fill="#d40b0b" stroke="#d40b0b" stroke-width="0.65" vector-effect="non-scaling-stroke">T</text>
<text transform="translate(351.37,311.25) scale(0.1573,0.0465)" font-size="100" font-weight="bold" fill="#0a18d0" stroke="#0a18d0" stroke-width="0.65" vector-effect="non-scaling-stroke">C</text>
<text transform="translate(351.62,315.00) scale(0.1537,0.0391)" font-size="100" font-weight="bold" fill="#10c010" stroke="#10c010" stroke-width="0.65" vector-effect="non-scaling-stroke">A</text>
<text transform="translate(363.01,301.43) scale(0.1481,0.0746)" font-size="100" font-weight="bold" fill="#ffae00" stroke="#ffae00" stroke-width="0.65" vector-effect="non-scaling-stroke">G</text>
<text transform="translate(363.43,306.50) scale(0.1695,0.0652)" font-size="100" font-weight="bold" fill="#d40b0b" stroke="#d40b0b" stroke-width="0.65" vector-effect="non-scaling-stroke">T</text>
<text transform="translate(362.99,311.24) scale(0.1527,0.0563)" font-size="100" font-weight="bold" fill="#0a18d0" stroke="#0a18d0" stroke-width="0.65" vector-effect="non-scaling-stroke">C</text>
<text transform="translate(363.23,315.00) scale(0.1493,0.0435)" font-size="100" font-weight="bold" fill="#10c010" stroke="#10c010" stroke-width="0.65" vector-effect="non-scaling-stroke">A</text>
<text transform="translate(375.40,311.97) scale(0.1511,0.2268)" font-size="100" font-weight="bold" fill="#0a18d0" stroke="#0a18d0" stroke-width="0.65" vector-effect="non-scaling-stroke">C</text>
<text transform="translate(375.63,314.00) scale(0.1478,0.0217)" font-size="100" font-weight="bold" fill="#10c010" stroke="#10c010" stroke-width="0.65" vector-effect="non-scaling-stroke">A</text>
<text transform="translate(385.55,310.60) scale(0.1634,0.2014)" font-size="100" font-weight="bold" fill="#0a18d0" stroke="#0a18d0" stroke-width="0.65" vector-effect="non-scaling-stroke">C</text>
<text transform="translate(386.02,314.30) scale(0.1814,0.0478)" font-size="100" font-weight="bold" fill="#d40b0b" stroke="#d40b0b" stroke-width="0.65" vector-effect="non-scaling-stroke">T</text>
<text transform="translate(397.90,304.80) scale(0.1597,0.1362)" font-size="100" font-weight="bold" fill="#10c010" stroke="#10c010" stroke-width="0.65" vector-effect="non-scaling-stroke">A</text>
<text transform="translate(398.12,311.80) scale(0.1814,0.0913)" font-size="100" font-weight="bold" fill="#d40b0b" stroke="#d40b0b" stroke-width="0.65" vector-effect="non-scaling-stroke">T</text>
<text transform="translate(397.65,313.58) scale(0.1634,0.0225)" font-size="100" font-weight="bold" fill="#0a18d0" stroke="#0a18d0" stroke-width="0.65" vector-effect="non-scaling-stroke">C</text>
<text transform="translate(397.67,314.78) scale(0.1585,0.0169)" font-size="100" font-weight="bold" fill="#ffae00" stroke="#ffae00" stroke-width="0.65" vector-effect="non-scaling-stroke">G</text>
<text transform="translate(409.52,306.20) scale(0.1831,0.1565)" font-size="100" font-weight="bold" fill="#d40b0b" stroke="#d40b0b" stroke-width="0.65" vector-effect="non-scaling-stroke">T</text>
<text transform="translate(409.30,312.20) scale(0.1612,0.0841)" font-size="100" font-weight="bold" fill="#10c010" stroke="#10c010" stroke-width="0.65" vector-effect="non-scaling-stroke">A</text>
<text transform="translate(409.04,313.98) scale(0.1649,0.0225)" font-size="100" font-weight="bold" fill="#0a18d0" stroke="#0a18d0" stroke-width="0.65" vector-effect="non-scaling-stroke">C</text>
<text transform="translate(420.70,305.00) scale(0.1612,0.1391)" font-size="100" font-weight="bold" fill="#10c010" stroke="#10c010" stroke-width="0.65" vector-effect="non-scaling-stroke">A</text>
<text transform="translate(420.92,312.00) scale(0.1831,0.0942)" font-size="100" font-weight="bold" fill="#d40b0b" stroke="#d40b0b" stroke-width="0.65" vector-effect="non-scaling-stroke">T</text>
<text transform="translate(420.44,313.78) scale(0.1649,0.0225)" font-size="100" font-weight="bold" fill="#0a18d0" stroke="#0a18d0" stroke-width="0.65" vector-effect="non-scaling-stroke">C</text>
<text transform="translate(432.22,306.00) scale(0.1831,0.1493)" font-size="100" font-weight="bold" fill="#d40b0b" stroke="#d40b0b" stroke-width="0.65" vector-effect="non-scaling-stroke">T</text>
<text transform="translate(432.00,312.20) scale(0.1612,0.0855)" font-size="100" font-weight="bold" fill="#10c010" stroke="#10c010" stroke-width="0.65" vector-effect="non-scaling-stroke">A</text>
<text transform="translate(431.74,313.98) scale(0.1649,0.0225)" font-size="100" font-weight="bold" fill="#0a18d0" stroke="#0a18d0" stroke-width="0.65" vector-effect="non-scaling-stroke">C</text>
<text transform="translate(443.41,305.00) scale(0.1567,0.1391)" font-size="100" font-weight="bold" fill="#10c010" stroke="#10c010" stroke-width="0.65" vector-effect="non-scaling-stroke">A</text>
<text transform="translate(443.62,312.00) scale(0.1780,0.0971)" font-size="100" font-weight="bold" fill="#d40b0b" stroke="#d40b0b" stroke-width="0.65" vector-effect="non-scaling-stroke">T</text>
<text transform="translate(443.18,313.58) scale(0.1556,0.0197)" font-size="100" font-weight="bold" fill="#ffae00" stroke="#ffae00" stroke-width="0.65" vector-effect="non-scaling-stroke">G</text>
<text transform="translate(455.12,303.50) scale(0.1814,0.1130)" font-size="100" font-weight="bold" fill="#d40b0b" stroke="#d40b0b" stroke-width="0.65" vector-effect="non-scaling-stroke">T</text>
<text transform="translate(454.90,312.20) scale(0.1597,0.0971)" font-size="100" font-weight="bold" fill="#10c010" stroke="#10c010" stroke-width="0.65" vector-effect="non-scaling-stroke">A</text>
<text transform="translate(454.65,313.98) scale(0.1634,0.0225)" font-size="100" font-weight="bold" fill="#0a18d0" stroke="#0a18d0" stroke-width="0.65" vector-effect="non-scaling-stroke">C</text>
<text transform="translate(466.10,311.98) scale(0.1496,0.2211)" font-size="100" font-weight="bold" fill="#ffae00" stroke="#ffae00" stroke-width="0.65" vector-effect="non-scaling-stroke">G</text>
<text transform="translate(466.32,315.00) scale(0.1507,0.0377)" font-size="100" font-weight="bold" fill="#10c010" stroke="#10c010" stroke-width="0.65" vector-effect="non-scaling-stroke">A</text>
<text transform="translate(477.57,311.39) scale(0.1585,0.2127)" font-size="100" font-weight="bold" fill="#ffae00" stroke="#ffae00" stroke-width="0.65" vector-effect="non-scaling-stroke">G</text>
<text transform="translate(477.55,313.57) scale(0.1634,0.0254)" font-size="100" font-weight="bold" fill="#0a18d0" stroke="#0a18d0" stroke-width="0.65" vector-effect="non-scaling-stroke">C</text>
<text transform="translate(339.83,387.90) scale(0.1896,0.1261)" font-size="100" font-weight="bold" fill="#10c010" stroke="#10c010" stroke-width="0.65" vector-effect="non-scaling-stroke">A</text>
<text transform="translate(339.55,392.45) scale(0.1881,0.0493)" font-size="100" font-weight="bold" fill="#ffae00" stroke="#ffae00" stroke-width="0.65" vector-effect="non-scaling-stroke">G</text>
<text transform="translate(340.08,397.70) scale(0.2153,0.0710)" font-size="100" font-weight="bold" fill="#d40b0b" stroke="#d40b0b" stroke-width="0.65" vector-effect="non-scaling-stroke">T</text>
<text transform="translate(339.52,401.66) scale(0.1939,0.0408)" font-size="100" font-weight="bold" fill="#0a18d0" stroke="#0a18d0" stroke-width="0.65" vector-effect="non-scaling-stroke">C</text>
<text transform="translate(353.73,387.90) scale(0.1881,0.1261)" font-size="100" font-weight="bold" fill="#10c010" stroke="#10c010" stroke-width="0.65" vector-effect="non-scaling-stroke">A</text>
<text transform="translate(353.45,394.13) scale(0.1867,0.0662)" font-size="100" font-weight="bold" fill="#ffae00" stroke="#ffae00" stroke-width="0.65" vector-effect="non-scaling-stroke">G</text>
<text transform="translate(353.99,398.80) scale(0.2136,0.0609)" font-size="100" font-weight="bold" fill="#d40b0b" stroke="#d40b0b" stroke-width="0.65" vector-effect="non-scaling-stroke">T</text>
<text transform="translate(353.43,401.67) scale(0.1924,0.0296)" font-size="100" font-weight="bold" fill="#0a18d0" stroke="#0a18d0" stroke-width="0.65" vector-effect="non-scaling-stroke">C</text>
<text transform="translate(367.01,391.14) scale(0.1969,0.1620)" font-size="100" font-weight="bold" fill="#0a18d0" stroke="#0a18d0" stroke-width="0.65" vector-effect="non-scaling-stroke">C</text>
<text transform="translate(367.04,395.94) scale(0.1911,0.0577)" font-size="100" font-weight="bold" fill="#ffae00" stroke="#ffae00" stroke-width="0.65" vector-effect="non-scaling-stroke">G</text>
<text transform="translate(367.32,400.60) scale(0.1925,0.0594)" font-size="100" font-weight="bold" fill="#10c010" stroke="#10c010" stroke-width="0.65" vector-effect="non-scaling-stroke">A</text>
<text transform="translate(380.63,389.46) scale(0.1664,0.1380)" font-size="100" font-weight="bold" fill="#0a18d0" stroke="#0a18d0" stroke-width="0.65" vector-effect="non-scaling-stroke">C</text>
<text transform="translate(380.89,396.50) scale(0.1627,0.0826)" font-size="100" font-weight="bold" fill="#10c010" stroke="#10c010" stroke-width="0.65" vector-effect="non-scaling-stroke">A</text>
<text transform="translate(380.65,401.16) scale(0.1615,0.0408)" font-size="100" font-weight="bold" fill="#ffae00" stroke="#ffae00" stroke-width="0.65" vector-effect="non-scaling-stroke">G</text>
<text transform="translate(395.87,396.95) scale(0.1585,0.2507)" font-size="100" font-weight="bold" fill="#ffae00" stroke="#ffae00" stroke-width="0.65" vector-effect="non-scaling-stroke">G</text>
<text transform="translate(395.85,399.28) scale(0.1634,0.0211)" font-size="100" font-weight="bold" fill="#0a18d0" stroke="#0a18d0" stroke-width="0.65" vector-effect="non-scaling-stroke">C</text>
<text transform="translate(407.41,395.18) scale(0.1970,0.2225)" font-size="100" font-weight="bold" fill="#ffae00" stroke="#ffae00" stroke-width="0.65" vector-effect="non-scaling-stroke">G</text>
<text transform="translate(407.70,398.50) scale(0.1985,0.0362)" font-size="100" font-weight="bold" fill="#10c010" stroke="#10c010" stroke-width="0.65" vector-effect="non-scaling-stroke">A</text>
<text transform="translate(422.13,399.30) scale(0.1896,0.2870)" font-size="100" font-weight="bold" fill="#10c010" stroke="#10c010" stroke-width="0.65" vector-effect="non-scaling-stroke">A</text>
<text transform="translate(435.51,399.30) scale(0.1970,0.2870)" font-size="100" font-weight="bold" fill="#10c010" stroke="#10c010" stroke-width="0.65" vector-effect="non-scaling-stroke">A</text>
<text transform="translate(452.72,387.78) scale(0.1452,0.1211)" font-size="100" font-weight="bold" fill="#ffae00" stroke="#ffae00" stroke-width="0.65" vector-effect="non-scaling-stroke">G</text>
<text transform="translate(452.93,396.00) scale(0.1463,0.0841)" font-size="100" font-weight="bold" fill="#10c010" stroke="#10c010" stroke-width="0.65" vector-effect="non-scaling-stroke">A</text>
<text transform="translate(452.70,401.14) scale(0.1496,0.0606)" font-size="100" font-weight="bold" fill="#0a18d0" stroke="#0a18d0" stroke-width="0.65" vector-effect="non-scaling-stroke">C</text>
<text transform="translate(462.88,390.80) scale(0.2237,0.1667)" font-size="100" font-weight="bold" fill="#d40b0b" stroke="#d40b0b" stroke-width="0.65" vector-effect="non-scaling-stroke">T</text>
<text transform="translate(462.29,396.14) scale(0.2015,0.0648)" font-size="100" font-weight="bold" fill="#0a18d0" stroke="#0a18d0" stroke-width="0.65" vector-effect="non-scaling-stroke">C</text>
<text transform="translate(462.61,401.50) scale(0.1970,0.0739)" font-size="100" font-weight="bold" fill="#10c010" stroke="#10c010" stroke-width="0.65" vector-effect="non-scaling-stroke">A</text>
<rect x="372.70" y="292.30" width="120.00" height="25.10" fill="none" stroke="#f80c0c" stroke-width="3.2"/>
<rect x="393.60" y="376.60" width="58.10" height="25.30" fill="none" stroke="#f80c0c" stroke-width="3.2"/>
<text x="7.70" y="498.60" font-size="11.45" textLength="9.26" lengthAdjust="spacingAndGlyphs" fill="#231f20" stroke="#231f20" stroke-width="0.45" >G</text>
<rect x="105.2" y="558.28" width="30.20" height="43.28" fill="#da8917"/>
<rect x="105.2" y="601.56" width="30.20" height="66.84" fill="#abbb86"/>
<line x1="120.30" y1="668.40" x2="120.30" y2="671.70" stroke="#231f20" stroke-width="1.1"/>
<rect x="151.2" y="514.00" width="30.20" height="55.81" fill="#da8917"/>
<rect x="151.2" y="569.81" width="30.20" height="98.59" fill="#abbb86"/>
<line x1="166.30" y1="668.40" x2="166.30" y2="671.70" stroke="#231f20" stroke-width="1.1"/>
<rect x="243.1" y="547.75" width="30.10" height="49.96" fill="#da8917"/>
<rect x="243.1" y="597.72" width="30.10" height="70.68" fill="#abbb86"/>
<line x1="258.15" y1="668.40" x2="258.15" y2="671.70" stroke="#231f20" stroke-width="1.1"/>
<rect x="289.2" y="593.37" width="29.90" height="37.10" fill="#da8917"/>
<rect x="289.2" y="630.47" width="29.90" height="37.93" fill="#abbb86"/>
<line x1="304.15" y1="668.40" x2="304.15" y2="671.70" stroke="#231f20" stroke-width="1.1"/>
<rect x="380.5" y="524.36" width="30.50" height="52.47" fill="#da8917"/>
<rect x="380.5" y="576.83" width="30.50" height="91.57" fill="#abbb86"/>
<line x1="395.75" y1="668.40" x2="395.75" y2="671.70" stroke="#231f20" stroke-width="1.1"/>
<rect x="425.8" y="640.16" width="30.80" height="15.54" fill="#da8917"/>
<rect x="425.8" y="655.70" width="30.80" height="12.70" fill="#abbb86"/>
<line x1="441.20" y1="668.40" x2="441.20" y2="671.70" stroke="#231f20" stroke-width="1.1"/>
<line x1="89.5" y1="497.8" x2="89.5" y2="669.00" stroke="#231f20" stroke-width="1.4"/>
<line x1="88.8" y1="668.60" x2="472.6" y2="668.60" stroke="#231f20" stroke-width="1.5"/>
<line x1="86.1" y1="668.40" x2="89.5" y2="668.40" stroke="#231f20" stroke-width="1.1"/>
<text x="77.93" y="671.30" font-size="8.30" textLength="5.10" lengthAdjust="spacingAndGlyphs" fill="#231f20" stroke="#231f20" stroke-width="0.25" >0</text>
<line x1="86.1" y1="634.98" x2="89.5" y2="634.98" stroke="#231f20" stroke-width="1.1"/>
<text x="73.47" y="637.88" font-size="8.30" textLength="9.55" lengthAdjust="spacingAndGlyphs" fill="#231f20" stroke="#231f20" stroke-width="0.25" >20</text>
<line x1="86.1" y1="601.56" x2="89.5" y2="601.56" stroke="#231f20" stroke-width="1.1"/>
<text x="73.73" y="604.46" font-size="8.30" textLength="9.28" lengthAdjust="spacingAndGlyphs" fill="#231f20" stroke="#231f20" stroke-width="0.25" >40</text>
<line x1="86.1" y1="568.14" x2="89.5" y2="568.14" stroke="#231f20" stroke-width="1.1"/>
<text x="73.47" y="571.04" font-size="8.30" textLength="9.55" lengthAdjust="spacingAndGlyphs" fill="#231f20" stroke="#231f20" stroke-width="0.25" >60</text>
<line x1="86.1" y1="534.72" x2="89.5" y2="534.72" stroke="#231f20" stroke-width="1.1"/>
<text x="73.52" y="537.62" font-size="8.30" textLength="9.50" lengthAdjust="spacingAndGlyphs" fill="#231f20" stroke="#231f20" stroke-width="0.25" >80</text>
<line x1="86.1" y1="501.30" x2="89.5" y2="501.30" stroke="#231f20" stroke-width="1.1"/>
<text x="69.44" y="504.20" font-size="8.30" textLength="13.57" lengthAdjust="spacingAndGlyphs" fill="#231f20" stroke="#231f20" stroke-width="0.25" >100</text>
<text transform="translate(59.60,631.50) rotate(-90)" x="-0.80" y="0" font-size="8.30" textLength="97.23" lengthAdjust="spacingAndGlyphs" fill="#231f20" stroke="#231f20" stroke-width="0.25">Percent of total peaks</text>
<line x1="212.0" y1="495.8" x2="212.0" y2="708" stroke="#231f20" stroke-width="1.3" stroke-dasharray="2 1.7"/>
<line x1="349.8" y1="495.8" x2="349.8" y2="708" stroke="#231f20" stroke-width="1.3" stroke-dasharray="2 1.7"/>
<text x="100.95" y="683.40" font-size="8.84" textLength="38.38" lengthAdjust="spacingAndGlyphs" fill="#231f20" stroke="#231f20" stroke-width="0.25" >Increasing</text>
<text x="144.72" y="683.40" font-size="8.84" textLength="42.75" lengthAdjust="spacingAndGlyphs" fill="#231f20" stroke="#231f20" stroke-width="0.25" >Decreasing</text>
<text x="237.83" y="683.40" font-size="8.84" textLength="39.41" lengthAdjust="spacingAndGlyphs" fill="#231f20" stroke="#231f20" stroke-width="0.25" >Increasing</text>
<text x="282.73" y="683.40" font-size="8.84" textLength="42.14" lengthAdjust="spacingAndGlyphs" fill="#231f20" stroke="#231f20" stroke-width="0.25" >Decreasing</text>
<text x="375.94" y="683.40" font-size="8.84" textLength="38.79" lengthAdjust="spacingAndGlyphs" fill="#231f20" stroke="#231f20" stroke-width="0.25" >Increasing</text>
<text x="420.33" y="683.40" font-size="8.84" textLength="42.14" lengthAdjust="spacingAndGlyphs" fill="#231f20" stroke="#231f20" stroke-width="0.25" >Decreasing</text>
<text x="110.18" y="696.50" font-size="8.99" textLength="68.92" lengthAdjust="spacingAndGlyphs" fill="#231f20" stroke="#231f20" stroke-width="0.25" >Untreated vs TPA+</text>
<text x="230.49" y="696.50" font-size="8.99" textLength="75.53" lengthAdjust="spacingAndGlyphs" fill="#231f20" stroke="#231f20" stroke-width="0.25" >Untreated vs MRTFA</text>
<text x="306.27" y="692.30" font-size="5.65" textLength="7.33" lengthAdjust="spacingAndGlyphs" fill="#231f20" stroke="#231f20" stroke-width="0.25" >OE</text>
<text x="314.15" y="696.50" font-size="8.99" textLength="18.83" lengthAdjust="spacingAndGlyphs" fill="#231f20" stroke="#231f20" stroke-width="0.25" >TPA+</text>
<text x="378.35" y="696.50" font-size="8.99" textLength="55.06" lengthAdjust="spacingAndGlyphs" fill="#231f20" stroke="#231f20" stroke-width="0.25" >TPA+ vs MRTFA</text>
<text x="433.93" y="692.30" font-size="5.65" textLength="8.82" lengthAdjust="spacingAndGlyphs" fill="#231f20" stroke="#231f20" stroke-width="0.25" >OE</text>
<text x="442.85" y="696.50" font-size="8.99" textLength="18.32" lengthAdjust="spacingAndGlyphs" fill="#231f20" stroke="#231f20" stroke-width="0.25" >TPA+</text>
<rect x="411.25" y="488.9" width="10" height="5" fill="#da8917"/>
<rect x="411.25" y="501.4" width="10" height="5" fill="#abbb86"/>
<text x="424.40" y="493.90" font-size="7.83" textLength="39.68" lengthAdjust="spacingAndGlyphs" fill="#231f20" stroke="#231f20" stroke-width="0.25" >CArG &amp; ETS</text>
<text x="424.37" y="506.40" font-size="7.83" textLength="35.40" lengthAdjust="spacingAndGlyphs" fill="#231f20" stroke="#231f20" stroke-width="0.25" >CArG only</text>
</svg>
<svg class="bd" width="520" height="716" viewBox="0 0 520 716"><path fill-rule="evenodd" fill="#0b0b0b" d="M0,0H520V716H0Z M1.7,1.6V714.3H518.2V1.6Z"/></svg>
</div></body></html>
